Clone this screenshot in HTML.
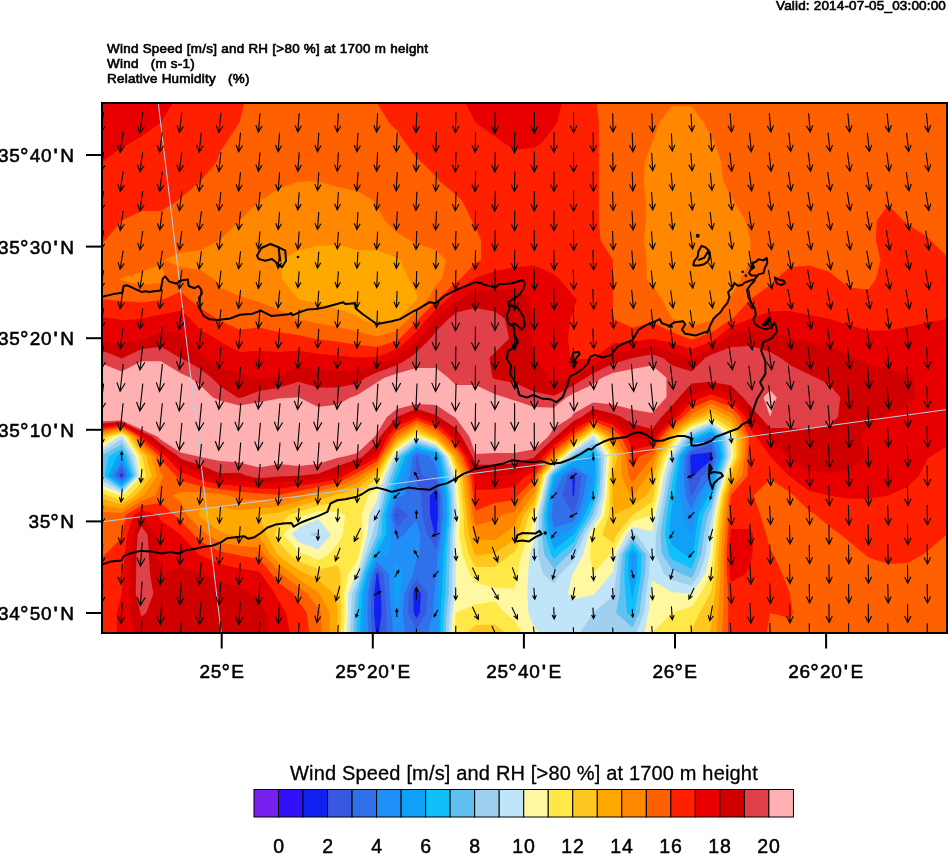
<!DOCTYPE html>
<html><head><meta charset="utf-8"><title>Wind Speed and RH at 1700 m</title>
<style>
html,body{margin:0;padding:0;background:#fff;width:948px;height:854px;overflow:hidden;}
body{width:948px;height:854px;position:relative;overflow:hidden;font-family:"Liberation Sans",sans-serif;color:#000;}
svg{position:absolute;left:0;top:0;}
div{position:absolute;white-space:nowrap;line-height:1;will-change:transform;}
.lat{left:-40px;width:114.6px;text-align:right;font-size:19px;letter-spacing:0.7px;-webkit-text-stroke:0.55px #000;}
.dg{font-size:1.12em;margin:0 0.6px 0 -0.6px;line-height:0;position:relative;top:2.2px;}
.mn{margin:0 2.2px 0 1.4px;-webkit-text-stroke:1px #000;}
.lon{top:661.8px;width:120px;text-align:center;font-size:19px;letter-spacing:0.7px;-webkit-text-stroke:0.55px #000;}
.cbl{top:836.8px;width:60px;text-align:center;font-size:19.5px;letter-spacing:0.9px;-webkit-text-stroke:0.5px #000;}
.t{left:107px;font-size:12.2px;-webkit-text-stroke:0.6px #000;letter-spacing:0.25px;transform:scaleX(1.10);transform-origin:0 0;}
#valid{left:775.8px;top:-1.3px;font-size:13.5px;-webkit-text-stroke:0.65px #000;letter-spacing:0.17px;}
#cbt{left:290px;top:763px;font-size:20px;-webkit-text-stroke:0.3px #000;letter-spacing:0.17px;}
main{display:block;position:absolute;left:0;top:0;width:948px;height:854px;overflow:hidden;contain:paint;}
</style></head><body><main>
<svg width="948" height="854" viewBox="0 0 948 854">
<defs><clipPath id="cp"><rect x="102" y="103" width="845" height="530"/></clipPath></defs>
<g clip-path="url(#cp)" shape-rendering="geometricPrecision">
<rect x="100" y="101" width="850" height="535" fill="#1020f0"/>
<path fill="#3858e0" fill-rule="evenodd" d="M102.0 103.0L121.7 103.0L141.3 103.0L160.9 103.0L180.6 103.0L200.2 103.0L219.9 103.0L239.5 103.0L259.2 103.0L278.9 103.0L298.5 103.0L318.1 103.0L337.8 103.0L357.4 103.0L377.1 103.0L396.8 103.0L416.4 103.0L436.0 103.0L455.7 103.0L475.3 103.0L495.0 103.0L514.6 103.0L534.3 103.0L554.0 103.0L573.6 103.0L593.2 103.0L612.9 103.0L632.5 103.0L652.2 103.0L671.8 103.0L691.5 103.0L711.1 103.0L730.8 103.0L750.4 103.0L770.1 103.0L789.8 103.0L809.4 103.0L829.0 103.0L848.7 103.0L868.3 103.0L888.0 103.0L907.6 103.0L927.3 103.0L946.9 103.0L946.9 122.6L946.9 142.2L946.9 161.9L946.9 181.5L946.9 201.1L946.9 220.7L946.9 240.3L946.9 260.0L946.9 279.6L946.9 299.2L946.9 318.8L946.9 338.4L946.9 358.1L946.9 377.7L946.9 397.3L946.9 416.9L946.9 436.5L946.9 456.2L946.9 475.8L946.9 495.4L946.9 515.0L946.9 534.6L946.9 554.3L946.9 573.9L946.9 593.5L946.9 613.1L946.9 632.7L927.3 632.7L907.6 632.7L888.0 632.7L868.3 632.7L848.7 632.7L829.0 632.7L809.4 632.7L789.8 632.7L770.1 632.7L750.4 632.7L730.8 632.7L711.1 632.7L691.5 632.7L671.8 632.7L652.2 632.7L632.5 632.7L612.9 632.7L593.2 632.7L573.6 632.7L554.0 632.7L534.3 632.7L514.6 632.7L495.0 632.7L475.3 632.7L455.7 632.7L436.0 632.7L416.4 632.7L396.8 632.7L379.2 632.7L381.5 613.1L380.9 593.5L378.2 573.9L377.1 572.8L376.6 573.9L374.3 593.5L374.1 613.1L375.9 632.7L357.4 632.7L337.8 632.7L318.1 632.7L298.5 632.7L278.9 632.7L259.2 632.7L239.5 632.7L219.9 632.7L200.2 632.7L180.6 632.7L160.9 632.7L141.3 632.7L121.7 632.7L102.0 632.7L102.0 613.1L102.0 593.5L102.0 573.9L102.0 554.3L102.0 534.6L102.0 515.0L102.0 495.4L102.0 475.8L102.0 456.2L102.0 436.5L102.0 416.9L102.0 397.3L102.0 377.7L102.0 358.1L102.0 338.4L102.0 318.8L102.0 299.2L102.0 279.6L102.0 260.0L102.0 240.3L102.0 220.7L102.0 201.1L102.0 181.5L102.0 161.9L102.0 142.2L102.0 122.6ZM121.7 472.9L119.8 475.8L121.7 477.0L122.9 475.8ZM396.7 514.2L396.5 515.0L396.8 516.1L397.8 515.0ZM416.4 587.8L413.3 593.5L413.7 613.1L416.4 618.6L419.7 613.1L421.0 593.5ZM436.0 489.2L429.8 495.4L430.0 515.0L434.6 534.6L436.0 536.9L436.5 534.6L437.9 515.0L437.6 495.4ZM573.6 474.8L572.2 475.8L572.6 495.4L573.6 497.2L574.1 495.4L575.4 475.8ZM691.5 454.5L690.2 456.2L690.8 475.8L691.5 479.3L693.3 475.8L711.1 460.1L712.3 456.2L711.1 452.2Z"/>
<path fill="#3070e8" fill-rule="evenodd" d="M102.0 103.0L121.7 103.0L141.3 103.0L160.9 103.0L180.6 103.0L200.2 103.0L219.9 103.0L239.5 103.0L259.2 103.0L278.9 103.0L298.5 103.0L318.1 103.0L337.8 103.0L357.4 103.0L377.1 103.0L396.8 103.0L416.4 103.0L436.0 103.0L455.7 103.0L475.3 103.0L495.0 103.0L514.6 103.0L534.3 103.0L554.0 103.0L573.6 103.0L593.2 103.0L612.9 103.0L632.5 103.0L652.2 103.0L671.8 103.0L691.5 103.0L711.1 103.0L730.8 103.0L750.4 103.0L770.1 103.0L789.8 103.0L809.4 103.0L829.0 103.0L848.7 103.0L868.3 103.0L888.0 103.0L907.6 103.0L927.3 103.0L946.9 103.0L946.9 122.6L946.9 142.2L946.9 161.9L946.9 181.5L946.9 201.1L946.9 220.7L946.9 240.3L946.9 260.0L946.9 279.6L946.9 299.2L946.9 318.8L946.9 338.4L946.9 358.1L946.9 377.7L946.9 397.3L946.9 416.9L946.9 436.5L946.9 456.2L946.9 475.8L946.9 495.4L946.9 515.0L946.9 534.6L946.9 554.3L946.9 573.9L946.9 593.5L946.9 613.1L946.9 632.7L927.3 632.7L907.6 632.7L888.0 632.7L868.3 632.7L848.7 632.7L829.0 632.7L809.4 632.7L789.8 632.7L770.1 632.7L750.4 632.7L730.8 632.7L711.1 632.7L691.5 632.7L671.8 632.7L652.2 632.7L632.5 632.7L612.9 632.7L593.2 632.7L573.6 632.7L554.0 632.7L534.3 632.7L514.6 632.7L495.0 632.7L475.3 632.7L455.7 632.7L436.0 632.7L416.4 632.7L396.8 632.7L386.2 632.7L386.4 613.1L385.2 593.5L383.5 573.9L377.1 567.5L374.2 573.9L371.3 593.5L370.8 613.1L372.0 632.7L357.4 632.7L337.8 632.7L318.1 632.7L298.5 632.7L278.9 632.7L259.2 632.7L239.5 632.7L219.9 632.7L200.2 632.7L180.6 632.7L160.9 632.7L141.3 632.7L121.7 632.7L102.0 632.7L102.0 613.1L102.0 593.5L102.0 573.9L102.0 554.3L102.0 534.6L102.0 515.0L102.0 495.4L102.0 475.8L102.0 456.2L102.0 436.5L102.0 416.9L102.0 397.3L102.0 377.7L102.0 358.1L102.0 338.4L102.0 318.8L102.0 299.2L102.0 279.6L102.0 260.0L102.0 240.3L102.0 220.7L102.0 201.1L102.0 181.5L102.0 161.9L102.0 142.2L102.0 122.6ZM121.6 468.1L116.8 475.8L121.7 479.1L124.9 475.8ZM396.8 506.0L393.7 515.0L396.8 527.0L408.1 515.0ZM416.4 455.9L416.0 456.2L415.3 475.8L416.4 481.4L420.9 495.4L422.4 515.0L427.3 534.6L436.0 548.5L438.8 534.6L440.3 515.0L439.9 495.4L436.0 480.2L422.0 475.8L417.6 456.2ZM573.6 471.4L567.7 475.8L562.2 495.4L573.6 515.0L573.6 515.0L573.6 515.0L578.9 495.4L581.3 475.8ZM691.5 451.3L687.7 456.2L687.4 475.8L691.0 495.4L691.5 496.6L692.0 495.4L702.2 475.8L711.1 467.9L714.6 456.2L711.1 444.4ZM416.4 579.6L408.8 593.5L408.2 613.1L416.4 629.5L426.2 613.1L427.5 593.5Z"/>
<path fill="#2090f8" fill-rule="evenodd" d="M102.0 103.0L121.7 103.0L141.3 103.0L160.9 103.0L180.6 103.0L200.2 103.0L219.9 103.0L239.5 103.0L259.2 103.0L278.9 103.0L298.5 103.0L318.1 103.0L337.8 103.0L357.4 103.0L377.1 103.0L396.8 103.0L416.4 103.0L436.0 103.0L455.7 103.0L475.3 103.0L495.0 103.0L514.6 103.0L534.3 103.0L554.0 103.0L573.6 103.0L593.2 103.0L612.9 103.0L632.5 103.0L652.2 103.0L671.8 103.0L691.5 103.0L711.1 103.0L730.8 103.0L750.4 103.0L770.1 103.0L789.8 103.0L809.4 103.0L829.0 103.0L848.7 103.0L868.3 103.0L888.0 103.0L907.6 103.0L927.3 103.0L946.9 103.0L946.9 122.6L946.9 142.2L946.9 161.9L946.9 181.5L946.9 201.1L946.9 220.7L946.9 240.3L946.9 260.0L946.9 279.6L946.9 299.2L946.9 318.8L946.9 338.4L946.9 358.1L946.9 377.7L946.9 397.3L946.9 416.9L946.9 436.5L946.9 456.2L946.9 475.8L946.9 495.4L946.9 515.0L946.9 534.6L946.9 554.3L946.9 573.9L946.9 593.5L946.9 613.1L946.9 632.7L927.3 632.7L907.6 632.7L888.0 632.7L868.3 632.7L848.7 632.7L829.0 632.7L809.4 632.7L789.8 632.7L770.1 632.7L750.4 632.7L730.8 632.7L711.1 632.7L691.5 632.7L671.8 632.7L652.2 632.7L632.5 632.7L612.9 632.7L593.2 632.7L573.6 632.7L554.0 632.7L534.3 632.7L514.6 632.7L495.0 632.7L475.3 632.7L455.7 632.7L436.0 632.7L427.9 632.7L432.8 613.1L434.1 593.5L436.0 573.9L436.0 573.9L437.6 554.3L441.1 534.6L442.7 515.0L442.1 495.4L437.5 475.8L436.0 466.0L429.9 456.2L416.4 453.2L412.5 456.2L409.7 475.8L404.1 495.4L396.8 497.9L390.9 515.0L395.4 534.6L396.8 540.5L404.1 534.6L416.4 520.6L420.0 534.6L419.7 554.3L416.4 559.2L413.1 573.9L404.3 593.5L402.8 613.1L404.9 632.7L396.8 632.7L393.2 632.7L391.3 613.1L389.5 593.5L388.8 573.9L377.1 562.2L371.7 573.9L368.2 593.5L367.4 613.1L368.1 632.7L357.4 632.7L337.8 632.7L318.1 632.7L298.5 632.7L278.9 632.7L259.2 632.7L239.5 632.7L219.9 632.7L200.2 632.7L180.6 632.7L160.9 632.7L141.3 632.7L121.7 632.7L102.0 632.7L102.0 613.1L102.0 593.5L102.0 573.9L102.0 554.3L102.0 534.6L102.0 515.0L102.0 495.4L102.0 475.8L102.0 456.2L102.0 436.5L102.0 416.9L102.0 397.3L102.0 377.7L102.0 358.1L102.0 338.4L102.0 318.8L102.0 299.2L102.0 279.6L102.0 260.0L102.0 240.3L102.0 220.7L102.0 201.1L102.0 181.5L102.0 161.9L102.0 142.2L102.0 122.6ZM121.7 463.3L113.8 475.8L121.7 481.2L127.0 475.8ZM573.6 468.0L563.1 475.8L554.0 493.6L553.6 495.4L551.7 515.0L554.0 527.6L573.6 521.6L577.4 515.0L583.7 495.4L587.3 475.8ZM711.1 436.5L711.1 436.5L691.5 448.0L685.2 456.2L683.9 475.8L685.5 495.4L691.5 508.9L697.5 495.4L711.1 475.8L711.1 475.8L716.9 456.2L711.1 436.5Z"/>
<path fill="#10a0f8" fill-rule="evenodd" d="M102.0 103.0L121.7 103.0L141.3 103.0L160.9 103.0L180.6 103.0L200.2 103.0L219.9 103.0L239.5 103.0L259.2 103.0L278.9 103.0L298.5 103.0L318.1 103.0L337.8 103.0L357.4 103.0L377.1 103.0L396.8 103.0L416.4 103.0L436.0 103.0L455.7 103.0L475.3 103.0L495.0 103.0L514.6 103.0L534.3 103.0L554.0 103.0L573.6 103.0L593.2 103.0L612.9 103.0L632.5 103.0L652.2 103.0L671.8 103.0L691.5 103.0L711.1 103.0L730.8 103.0L750.4 103.0L770.1 103.0L789.8 103.0L809.4 103.0L829.0 103.0L848.7 103.0L868.3 103.0L888.0 103.0L907.6 103.0L927.3 103.0L946.9 103.0L946.9 122.6L946.9 142.2L946.9 161.9L946.9 181.5L946.9 201.1L946.9 220.7L946.9 240.3L946.9 260.0L946.9 279.6L946.9 299.2L946.9 318.8L946.9 338.4L946.9 358.1L946.9 377.7L946.9 397.3L946.9 416.9L946.9 436.5L946.9 456.2L946.9 475.8L946.9 495.4L946.9 515.0L946.9 534.6L946.9 554.3L946.9 573.9L946.9 593.5L946.9 613.1L946.9 632.7L927.3 632.7L907.6 632.7L888.0 632.7L868.3 632.7L848.7 632.7L829.0 632.7L809.4 632.7L789.8 632.7L770.1 632.7L750.4 632.7L730.8 632.7L711.1 632.7L691.5 632.7L671.8 632.7L652.2 632.7L632.5 632.7L612.9 632.7L593.2 632.7L573.6 632.7L554.0 632.7L534.3 632.7L514.6 632.7L495.0 632.7L475.3 632.7L455.7 632.7L437.5 632.7L437.6 613.1L438.5 593.5L439.3 573.9L440.7 554.3L443.4 534.6L445.0 515.0L444.4 495.4L440.3 475.8L437.1 456.2L436.0 455.1L416.4 450.6L409.0 456.2L404.0 475.8L396.8 488.5L394.5 495.4L388.2 515.0L390.8 534.6L389.4 554.3L377.1 556.9L369.2 573.9L365.1 593.5L364.1 613.1L364.1 632.7L357.4 632.7L337.8 632.7L318.1 632.7L298.5 632.7L278.9 632.7L259.2 632.7L239.5 632.7L219.9 632.7L200.2 632.7L180.6 632.7L160.9 632.7L141.3 632.7L121.7 632.7L102.0 632.7L102.0 613.1L102.0 593.5L102.0 573.9L102.0 554.3L102.0 534.6L102.0 515.0L102.0 495.4L102.0 475.8L102.0 456.2L102.0 436.5L102.0 416.9L102.0 397.3L102.0 377.7L102.0 358.1L102.0 338.4L102.0 318.8L102.0 299.2L102.0 279.6L102.0 260.0L102.0 240.3L102.0 220.7L102.0 201.1L102.0 181.5L102.0 161.9L102.0 142.2L102.0 122.6ZM121.7 458.6L110.8 475.8L121.7 483.3L129.0 475.8ZM573.6 464.6L558.5 475.8L554.0 484.7L551.6 495.4L549.2 515.0L552.2 534.6L554.0 539.5L560.5 534.6L573.6 528.1L581.2 515.0L588.5 495.4L593.2 475.8L593.2 475.8L593.2 475.8ZM632.5 553.3L631.9 554.3L632.2 573.9L632.5 576.1L633.0 573.9L633.4 554.3ZM711.1 434.1L705.5 436.5L691.5 444.7L682.7 456.2L680.5 475.8L680.0 495.4L683.3 515.0L691.5 534.6L691.5 534.6L691.5 534.6L693.8 515.0L703.0 495.4L711.1 483.6L713.3 475.8L719.2 456.2L714.3 436.5ZM394.1 573.9L396.8 561.6L402.2 573.9L399.9 593.5L397.3 613.1L396.8 616.4L396.3 613.1L393.8 593.5Z"/>
<path fill="#10c0f8" fill-rule="evenodd" d="M102.0 103.0L121.7 103.0L141.3 103.0L160.9 103.0L180.6 103.0L200.2 103.0L219.9 103.0L239.5 103.0L259.2 103.0L278.9 103.0L298.5 103.0L318.1 103.0L337.8 103.0L357.4 103.0L377.1 103.0L396.8 103.0L416.4 103.0L436.0 103.0L455.7 103.0L475.3 103.0L495.0 103.0L514.6 103.0L534.3 103.0L554.0 103.0L573.6 103.0L593.2 103.0L612.9 103.0L632.5 103.0L652.2 103.0L671.8 103.0L691.5 103.0L711.1 103.0L730.8 103.0L750.4 103.0L770.1 103.0L789.8 103.0L809.4 103.0L829.0 103.0L848.7 103.0L868.3 103.0L888.0 103.0L907.6 103.0L927.3 103.0L946.9 103.0L946.9 122.6L946.9 142.2L946.9 161.9L946.9 181.5L946.9 201.1L946.9 220.7L946.9 240.3L946.9 260.0L946.9 279.6L946.9 299.2L946.9 318.8L946.9 338.4L946.9 358.1L946.9 377.7L946.9 397.3L946.9 416.9L946.9 436.5L946.9 456.2L946.9 475.8L946.9 495.4L946.9 515.0L946.9 534.6L946.9 554.3L946.9 573.9L946.9 593.5L946.9 613.1L946.9 632.7L927.3 632.7L907.6 632.7L888.0 632.7L868.3 632.7L848.7 632.7L829.0 632.7L809.4 632.7L789.8 632.7L770.1 632.7L750.4 632.7L730.8 632.7L711.1 632.7L691.5 632.7L671.8 632.7L652.2 632.7L632.5 632.7L612.9 632.7L593.2 632.7L573.6 632.7L554.0 632.7L534.3 632.7L514.6 632.7L495.0 632.7L475.3 632.7L455.7 632.7L440.3 632.7L440.6 613.1L441.9 593.5L442.6 573.9L443.7 554.3L445.8 534.6L447.4 515.0L446.7 495.4L443.1 475.8L439.2 456.2L436.0 453.0L416.4 447.9L405.5 456.2L398.4 475.8L396.8 478.7L391.2 495.4L385.4 515.0L386.2 534.6L377.1 550.3L375.5 554.3L366.8 573.9L362.1 593.5L360.8 613.1L360.2 632.7L357.4 632.7L337.8 632.7L318.1 632.7L298.5 632.7L278.9 632.7L259.2 632.7L239.5 632.7L219.9 632.7L200.2 632.7L180.6 632.7L160.9 632.7L141.3 632.7L121.7 632.7L102.0 632.7L102.0 613.1L102.0 593.5L102.0 573.9L102.0 554.3L102.0 534.6L102.0 515.0L102.0 495.4L102.0 475.8L102.0 456.2L102.0 436.5L102.0 416.9L102.0 397.3L102.0 377.7L102.0 358.1L102.0 338.4L102.0 318.8L102.0 299.2L102.0 279.6L102.0 260.0L102.0 240.3L102.0 220.7L102.0 201.1L102.0 181.5L102.0 161.9L102.0 142.2L102.0 122.6ZM121.7 453.7L117.4 456.2L107.7 475.8L121.7 485.4L131.1 475.8L123.2 456.2ZM593.2 453.7L588.3 456.2L573.6 461.2L554.0 475.8L554.0 475.8L549.6 495.4L546.7 515.0L548.8 534.6L554.0 549.4L573.6 534.6L573.6 534.6L584.9 515.0L593.2 495.4L593.2 495.4L595.7 475.8L594.8 456.2ZM632.5 548.4L628.7 554.3L628.2 573.9L631.4 593.5L632.5 599.1L633.4 593.5L637.0 573.9L637.6 554.3ZM711.1 431.6L699.9 436.5L691.5 441.4L680.2 456.2L677.0 475.8L674.6 495.4L671.8 507.7L670.7 515.0L669.6 534.6L671.8 544.5L684.1 554.3L691.5 557.5L692.8 554.3L695.7 534.6L698.5 515.0L708.4 495.4L711.1 491.5L715.5 475.8L721.6 456.2L717.4 436.5Z"/>
<path fill="#60c0f0" fill-rule="evenodd" d="M102.0 103.0L121.7 103.0L141.3 103.0L160.9 103.0L180.6 103.0L200.2 103.0L219.9 103.0L239.5 103.0L259.2 103.0L278.9 103.0L298.5 103.0L318.1 103.0L337.8 103.0L357.4 103.0L377.1 103.0L396.8 103.0L416.4 103.0L436.0 103.0L455.7 103.0L475.3 103.0L495.0 103.0L514.6 103.0L534.3 103.0L554.0 103.0L573.6 103.0L593.2 103.0L612.9 103.0L632.5 103.0L652.2 103.0L671.8 103.0L691.5 103.0L711.1 103.0L730.8 103.0L750.4 103.0L770.1 103.0L789.8 103.0L809.4 103.0L829.0 103.0L848.7 103.0L868.3 103.0L888.0 103.0L907.6 103.0L927.3 103.0L946.9 103.0L946.9 122.6L946.9 142.2L946.9 161.9L946.9 181.5L946.9 201.1L946.9 220.7L946.9 240.3L946.9 260.0L946.9 279.6L946.9 299.2L946.9 318.8L946.9 338.4L946.9 358.1L946.9 377.7L946.9 397.3L946.9 416.9L946.9 436.5L946.9 456.2L946.9 475.8L946.9 495.4L946.9 515.0L946.9 534.6L946.9 554.3L946.9 573.9L946.9 593.5L946.9 613.1L946.9 632.7L927.3 632.7L907.6 632.7L888.0 632.7L868.3 632.7L848.7 632.7L829.0 632.7L809.4 632.7L789.8 632.7L770.1 632.7L750.4 632.7L730.8 632.7L711.1 632.7L691.5 632.7L671.8 632.7L652.2 632.7L632.5 632.7L612.9 632.7L593.2 632.7L573.6 632.7L554.0 632.7L534.3 632.7L514.6 632.7L495.0 632.7L475.3 632.7L455.7 632.7L443.1 632.7L443.6 613.1L445.4 593.5L445.9 573.9L446.8 554.3L448.1 534.6L449.8 515.0L448.9 495.4L445.9 475.8L441.3 456.2L436.0 450.8L416.4 445.3L402.0 456.2L396.8 469.5L394.5 475.8L387.9 495.4L382.6 515.0L381.7 534.6L377.1 542.5L372.2 554.3L364.3 573.9L359.0 593.5L357.4 613.1L357.4 613.1L356.5 632.7L337.8 632.7L318.1 632.7L298.5 632.7L278.9 632.7L259.2 632.7L239.5 632.7L219.9 632.7L200.2 632.7L180.6 632.7L160.9 632.7L141.3 632.7L121.7 632.7L102.0 632.7L102.0 613.1L102.0 593.5L102.0 573.9L102.0 554.3L102.0 534.6L102.0 515.0L102.0 495.4L102.0 475.8L102.0 456.2L102.0 436.5L102.0 416.9L102.0 397.3L102.0 377.7L102.0 358.1L102.0 338.4L102.0 318.8L102.0 299.2L102.0 279.6L102.0 260.0L102.0 240.3L102.0 220.7L102.0 201.1L102.0 181.5L102.0 161.9L102.0 142.2L102.0 122.6ZM121.7 448.8L108.8 456.2L104.7 475.8L121.7 487.5L133.1 475.8L126.3 456.2ZM593.2 448.8L578.5 456.2L573.6 457.9L554.0 473.5L552.1 475.8L547.7 495.4L544.2 515.0L545.3 534.6L550.7 554.3L554.0 559.2L558.9 554.3L573.6 542.5L577.3 534.6L588.7 515.0L593.2 504.3L596.0 495.4L598.2 475.8L597.8 456.2ZM632.5 543.5L625.5 554.3L624.3 573.9L625.4 593.5L627.1 613.1L632.5 618.0L634.8 613.1L637.7 593.5L641.0 573.9L641.7 554.3ZM711.1 429.1L694.3 436.5L691.5 438.2L677.6 456.2L673.6 475.8L671.8 485.6L670.2 495.4L667.0 515.0L665.0 534.6L668.6 554.3L671.8 559.2L691.5 568.4L697.1 554.3L699.9 534.6L703.2 515.0L711.2 499.9L712.2 495.4L717.7 475.8L723.9 456.2L720.5 436.5Z"/>
<path fill="#a0d0f0" fill-rule="evenodd" d="M102.0 103.0L121.7 103.0L141.3 103.0L160.9 103.0L180.6 103.0L200.2 103.0L219.9 103.0L239.5 103.0L259.2 103.0L278.9 103.0L298.5 103.0L318.1 103.0L337.8 103.0L357.4 103.0L377.1 103.0L396.8 103.0L416.4 103.0L436.0 103.0L455.7 103.0L475.3 103.0L495.0 103.0L514.6 103.0L534.3 103.0L554.0 103.0L573.6 103.0L593.2 103.0L612.9 103.0L632.5 103.0L652.2 103.0L671.8 103.0L691.5 103.0L711.1 103.0L730.8 103.0L750.4 103.0L770.1 103.0L789.8 103.0L809.4 103.0L829.0 103.0L848.7 103.0L868.3 103.0L888.0 103.0L907.6 103.0L927.3 103.0L946.9 103.0L946.9 122.6L946.9 142.2L946.9 161.9L946.9 181.5L946.9 201.1L946.9 220.7L946.9 240.3L946.9 260.0L946.9 279.6L946.9 299.2L946.9 318.8L946.9 338.4L946.9 358.1L946.9 377.7L946.9 397.3L946.9 416.9L946.9 436.5L946.9 456.2L946.9 475.8L946.9 495.4L946.9 515.0L946.9 534.6L946.9 554.3L946.9 573.9L946.9 593.5L946.9 613.1L946.9 632.7L927.3 632.7L907.6 632.7L888.0 632.7L868.3 632.7L848.7 632.7L829.0 632.7L809.4 632.7L789.8 632.7L770.1 632.7L750.4 632.7L730.8 632.7L711.1 632.7L691.5 632.7L671.8 632.7L652.2 632.7L632.5 632.7L612.9 632.7L593.2 632.7L573.6 632.7L554.0 632.7L534.3 632.7L514.6 632.7L495.0 632.7L475.3 632.7L455.7 632.7L445.9 632.7L446.6 613.1L448.8 593.5L449.1 573.9L449.9 554.3L450.4 534.6L452.1 515.0L451.2 495.4L448.7 475.8L443.4 456.2L436.0 448.7L416.4 442.6L398.5 456.2L396.8 460.6L391.2 475.8L384.6 495.4L379.9 515.0L377.1 534.6L377.1 534.6L368.9 554.3L361.9 573.9L357.4 589.2L355.6 593.5L354.2 613.1L353.3 632.7L337.8 632.7L318.1 632.7L298.5 632.7L278.9 632.7L259.2 632.7L239.5 632.7L219.9 632.7L200.2 632.7L180.6 632.7L160.9 632.7L141.3 632.7L121.7 632.7L102.0 632.7L102.0 613.1L102.0 593.5L102.0 573.9L102.0 554.3L102.0 534.6L102.0 515.0L102.0 495.4L102.0 476.2L121.7 489.6L135.2 475.8L129.4 456.2L121.7 443.9L102.0 455.4L102.0 436.5L102.0 416.9L102.0 397.3L102.0 377.7L102.0 358.1L102.0 338.4L102.0 318.8L102.0 299.2L102.0 279.6L102.0 260.0L102.0 240.3L102.0 220.7L102.0 201.1L102.0 181.5L102.0 161.9L102.0 142.2L102.0 122.6ZM573.6 454.9L572.2 456.2L554.0 471.2L550.2 475.8L545.7 495.4L541.8 515.0L541.9 534.6L544.1 554.3L554.0 569.0L568.7 554.3L573.6 550.3L581.0 534.6L592.5 515.0L593.2 513.2L598.8 495.4L600.6 475.8L600.8 456.2L593.2 443.9ZM632.5 538.6L622.2 554.3L620.4 573.9L619.4 593.5L616.2 613.1L632.5 627.8L639.4 613.1L641.9 593.5L645.0 573.9L645.9 554.3ZM691.5 435.1L689.7 436.5L675.1 456.2L671.8 470.3L670.2 475.8L666.9 495.4L663.3 515.0L660.4 534.6L662.0 554.3L671.8 569.0L681.7 573.9L691.5 577.8L694.2 573.9L701.3 554.3L704.0 534.6L707.9 515.0L711.1 508.8L714.3 495.4L719.9 475.8L726.2 456.2L723.6 436.5L711.1 426.6Z"/>
<path fill="#c0e4f8" fill-rule="evenodd" d="M102.0 103.0L121.7 103.0L141.3 103.0L160.9 103.0L180.6 103.0L200.2 103.0L219.9 103.0L239.5 103.0L259.2 103.0L278.9 103.0L298.5 103.0L318.1 103.0L337.8 103.0L357.4 103.0L377.1 103.0L396.8 103.0L416.4 103.0L436.0 103.0L455.7 103.0L475.3 103.0L495.0 103.0L514.6 103.0L534.3 103.0L554.0 103.0L573.6 103.0L593.2 103.0L612.9 103.0L632.5 103.0L652.2 103.0L671.8 103.0L691.5 103.0L711.1 103.0L730.8 103.0L750.4 103.0L770.1 103.0L789.8 103.0L809.4 103.0L829.0 103.0L848.7 103.0L868.3 103.0L888.0 103.0L907.6 103.0L927.3 103.0L946.9 103.0L946.9 122.6L946.9 142.2L946.9 161.9L946.9 181.5L946.9 201.1L946.9 220.7L946.9 240.3L946.9 260.0L946.9 279.6L946.9 299.2L946.9 318.8L946.9 338.4L946.9 358.1L946.9 377.7L946.9 397.3L946.9 416.9L946.9 436.5L946.9 456.2L946.9 475.8L946.9 495.4L946.9 515.0L946.9 534.6L946.9 554.3L946.9 573.9L946.9 593.5L946.9 613.1L946.9 632.7L927.3 632.7L907.6 632.7L888.0 632.7L868.3 632.7L848.7 632.7L829.0 632.7L809.4 632.7L789.8 632.7L770.1 632.7L750.4 632.7L730.8 632.7L711.1 632.7L691.5 632.7L671.8 632.7L652.2 632.7L636.5 632.7L644.0 613.1L646.2 593.5L649.0 573.9L650.1 554.3L636.5 534.6L632.5 533.4L631.6 534.6L619.0 554.3L616.4 573.9L613.5 593.5L612.9 596.0L593.2 613.1L593.2 613.1L580.1 632.7L573.6 632.7L554.0 632.7L534.3 632.7L514.6 632.7L495.0 632.7L475.3 632.7L455.7 632.7L448.7 632.7L449.7 613.1L452.3 593.5L452.4 573.9L452.9 554.3L452.7 534.6L454.5 515.0L453.4 495.4L451.5 475.8L445.6 456.2L436.0 446.6L416.4 440.0L396.8 454.6L395.6 456.2L387.9 475.8L381.4 495.4L377.1 515.0L377.1 515.0L372.3 534.6L365.6 554.3L359.4 573.9L357.4 580.7L351.8 593.5L351.0 613.1L350.0 632.7L337.8 632.7L318.1 632.7L298.5 632.7L278.9 632.7L259.2 632.7L239.5 632.7L219.9 632.7L200.2 632.7L180.6 632.7L160.9 632.7L141.3 632.7L121.7 632.7L102.0 632.7L102.0 613.1L102.0 593.5L102.0 573.9L102.0 554.3L102.0 534.6L102.0 515.0L102.0 495.4L102.0 480.5L121.7 491.6L137.2 475.8L132.6 456.2L121.7 439.0L102.0 451.6L102.0 436.5L102.0 416.9L102.0 397.3L102.0 377.7L102.0 358.1L102.0 338.4L102.0 318.8L102.0 299.2L102.0 279.6L102.0 260.0L102.0 240.3L102.0 220.7L102.0 201.1L102.0 181.5L102.0 161.9L102.0 142.2L102.0 122.6ZM318.1 532.0L308.3 534.6L318.1 537.1L320.3 534.6ZM573.6 452.5L569.4 456.2L554.0 468.9L548.3 475.8L543.7 495.4L539.3 515.0L538.4 534.6L537.6 554.3L543.0 573.9L554.0 583.7L560.1 573.9L573.6 560.4L576.9 554.3L584.7 534.6L593.2 520.1L596.5 515.0L601.6 495.4L603.1 475.8L603.8 456.2L593.2 439.0ZM691.5 432.3L686.1 436.5L672.6 456.2L671.8 459.4L666.9 475.8L663.7 495.4L659.6 515.0L655.9 534.6L655.5 554.3L664.3 573.9L671.8 580.0L691.5 585.7L699.7 573.9L705.6 554.3L708.2 534.6L711.1 520.9L711.9 515.0L716.3 495.4L722.1 475.8L728.5 456.2L726.7 436.5L711.1 424.1Z"/>
<path fill="#fff8a0" fill-rule="evenodd" d="M102.0 103.0L121.7 103.0L141.3 103.0L160.9 103.0L180.6 103.0L200.2 103.0L219.9 103.0L239.5 103.0L259.2 103.0L278.9 103.0L298.5 103.0L318.1 103.0L337.8 103.0L357.4 103.0L377.1 103.0L396.8 103.0L416.4 103.0L436.0 103.0L455.7 103.0L475.3 103.0L495.0 103.0L514.6 103.0L534.3 103.0L554.0 103.0L573.6 103.0L593.2 103.0L612.9 103.0L632.5 103.0L652.2 103.0L671.8 103.0L691.5 103.0L711.1 103.0L730.8 103.0L750.4 103.0L770.1 103.0L789.8 103.0L809.4 103.0L829.0 103.0L848.7 103.0L868.3 103.0L888.0 103.0L907.6 103.0L927.3 103.0L946.9 103.0L946.9 122.6L946.9 142.2L946.9 161.9L946.9 181.5L946.9 201.1L946.9 220.7L946.9 240.3L946.9 260.0L946.9 279.6L946.9 299.2L946.9 318.8L946.9 338.4L946.9 358.1L946.9 377.7L946.9 397.3L946.9 416.9L946.9 436.5L946.9 456.2L946.9 475.8L946.9 495.4L946.9 515.0L946.9 534.6L946.9 554.3L946.9 573.9L946.9 593.5L946.9 613.1L946.9 632.7L927.3 632.7L907.6 632.7L888.0 632.7L868.3 632.7L848.7 632.7L829.0 632.7L809.4 632.7L789.8 632.7L770.1 632.7L750.4 632.7L730.8 632.7L711.1 632.7L691.5 632.7L671.8 632.7L652.2 632.7L644.3 632.7L648.5 613.1L650.5 593.5L652.2 580.4L671.8 592.3L691.5 593.5L691.5 593.5L691.5 593.5L705.1 573.9L709.9 554.3L711.1 544.5L711.9 534.6L714.4 515.0L718.4 495.4L724.2 475.8L730.8 456.2L730.8 456.2L730.8 456.2L729.9 436.5L711.1 421.6L691.5 429.5L682.6 436.5L671.8 452.4L669.5 456.2L663.7 475.8L660.4 495.4L655.9 515.0L652.2 531.4L632.5 527.3L626.7 534.6L615.8 554.3L612.9 571.9L611.1 573.9L595.2 593.5L593.2 595.3L573.6 599.1L568.0 593.5L572.4 573.9L573.6 572.7L583.4 554.3L588.4 534.6L593.2 526.4L600.6 515.0L604.3 495.4L605.5 475.8L606.9 456.2L595.2 436.5L593.2 435.3L591.6 436.5L573.6 450.0L566.6 456.2L554.0 466.5L546.4 475.8L541.8 495.4L536.8 515.0L535.0 534.6L534.3 540.2L530.0 554.3L528.1 573.9L527.3 593.5L528.4 613.1L534.3 627.8L539.2 632.7L534.3 632.7L514.6 632.7L495.0 632.7L475.3 632.7L455.7 632.7L451.5 632.7L452.7 613.1L455.7 593.5L455.7 593.5L455.7 573.9L456.3 554.3L455.7 549.4L455.0 534.6L455.7 527.3L457.3 515.0L455.7 495.4L455.7 495.4L454.3 475.8L447.7 456.2L436.0 444.4L416.4 437.3L396.8 451.5L393.4 456.2L384.6 475.8L378.1 495.4L377.1 499.9L369.2 515.0L367.5 534.6L362.4 554.3L357.5 571.6L355.9 573.9L348.0 593.5L347.8 613.1L346.8 632.7L337.8 632.7L318.1 632.7L298.5 632.7L278.9 632.7L259.2 632.7L239.5 632.7L219.9 632.7L200.2 632.7L180.6 632.7L160.9 632.7L141.3 632.7L121.7 632.7L102.0 632.7L102.0 613.1L102.0 593.5L102.0 573.9L102.0 554.3L102.0 534.6L102.0 515.0L102.0 495.4L102.0 484.7L121.7 493.7L139.3 475.8L135.7 456.2L123.0 436.5L121.7 435.8L118.8 436.5L102.0 447.9L102.0 436.5L102.0 416.9L102.0 397.3L102.0 377.7L102.0 358.1L102.0 338.4L102.0 318.8L102.0 299.2L102.0 279.6L102.0 260.0L102.0 240.3L102.0 220.7L102.0 201.1L102.0 181.5L102.0 161.9L102.0 142.2L102.0 122.6ZM298.5 527.5L291.7 534.6L298.5 542.1L318.1 549.4L331.2 534.6L318.1 518.9Z"/>
<path fill="#ffe848" fill-rule="evenodd" d="M102.0 103.0L121.7 103.0L141.3 103.0L160.9 103.0L180.6 103.0L200.2 103.0L219.9 103.0L239.5 103.0L259.2 103.0L278.9 103.0L298.5 103.0L318.1 103.0L337.8 103.0L357.4 103.0L377.1 103.0L396.8 103.0L416.4 103.0L436.0 103.0L455.7 103.0L475.3 103.0L495.0 103.0L514.6 103.0L534.3 103.0L554.0 103.0L573.6 103.0L593.2 103.0L612.9 103.0L632.5 103.0L652.2 103.0L671.8 103.0L691.5 103.0L711.1 103.0L730.8 103.0L750.4 103.0L770.1 103.0L789.8 103.0L809.4 103.0L829.0 103.0L848.7 103.0L868.3 103.0L888.0 103.0L907.6 103.0L927.3 103.0L946.9 103.0L946.9 122.6L946.9 142.2L946.9 161.9L946.9 181.5L946.9 201.1L946.9 220.7L946.9 240.3L946.9 260.0L946.9 279.6L946.9 299.2L946.9 318.8L946.9 338.4L946.9 358.1L946.9 377.7L946.9 397.3L946.9 416.9L946.9 436.5L946.9 456.2L946.9 475.8L946.9 495.4L946.9 515.0L946.9 534.6L946.9 554.3L946.9 573.9L946.9 593.5L946.9 613.1L946.9 632.7L927.3 632.7L907.6 632.7L888.0 632.7L868.3 632.7L848.7 632.7L829.0 632.7L809.4 632.7L789.8 632.7L770.1 632.7L750.4 632.7L730.8 632.7L711.1 632.7L691.5 632.7L671.8 632.7L652.2 632.7L671.8 613.1L671.8 613.1L691.5 606.6L700.9 593.5L710.6 573.9L711.1 571.4L713.0 554.3L714.6 534.6L716.9 515.0L720.5 495.4L726.4 475.8L730.8 462.7L733.6 456.2L733.0 436.5L730.8 433.0L711.1 419.2L691.5 426.7L679.0 436.5L671.8 447.1L666.1 456.2L660.4 475.8L657.1 495.4L652.2 515.0L652.2 515.0L632.5 521.2L621.7 534.6L612.9 553.2L609.6 554.3L593.2 573.9L590.0 554.3L592.1 534.6L593.2 532.7L604.7 515.0L607.1 495.4L608.0 475.8L609.9 456.2L599.1 436.5L593.2 433.0L588.3 436.5L573.6 447.6L563.8 456.2L554.0 464.2L544.5 475.8L539.8 495.4L534.3 515.0L534.3 515.0L529.4 534.6L521.5 554.3L517.8 573.9L514.6 588.6L495.0 587.9L475.3 582.6L469.7 573.9L462.5 554.3L459.1 534.6L460.4 515.0L458.6 495.4L457.0 475.8L455.7 472.8L449.8 456.2L436.0 442.3L420.4 436.5L416.4 434.5L413.3 436.5L396.8 448.4L391.2 456.2L381.4 475.8L377.1 488.5L367.9 495.4L361.4 515.0L362.7 534.6L359.1 554.3L357.4 560.0L348.4 573.9L344.2 593.5L344.6 613.1L343.6 632.7L337.8 632.7L318.1 632.7L298.5 632.7L278.9 632.7L259.2 632.7L239.5 632.7L219.9 632.7L200.2 632.7L180.6 632.7L160.9 632.7L141.3 632.7L121.7 632.7L102.0 632.7L102.0 613.1L102.0 593.5L102.0 573.9L102.0 554.3L102.0 534.6L102.0 515.0L102.0 495.4L102.0 489.0L119.3 495.4L121.7 496.2L123.0 495.4L141.3 475.8L141.3 475.8L141.3 475.8L138.8 456.2L125.6 436.5L121.7 434.2L113.2 436.5L102.0 444.1L102.0 436.5L102.0 416.9L102.0 397.3L102.0 377.7L102.0 358.1L102.0 338.4L102.0 318.8L102.0 299.2L102.0 279.6L102.0 260.0L102.0 240.3L102.0 220.7L102.0 201.1L102.0 181.5L102.0 161.9L102.0 142.2L102.0 122.6ZM318.2 511.2L305.6 515.0L298.5 518.6L283.1 534.6L298.5 551.5L305.1 554.3L318.1 559.9L328.9 554.3L337.8 543.4L343.0 534.6L345.2 515.0L337.8 512.1ZM455.7 613.1L475.3 604.4L495.0 601.3L504.8 613.1L514.6 620.5L521.7 632.7L514.6 632.7L495.0 632.7L475.3 632.7L455.7 632.7L454.3 632.7L455.7 613.1Z"/>
<path fill="#ffc820" fill-rule="evenodd" d="M102.0 103.0L121.7 103.0L141.3 103.0L160.9 103.0L180.6 103.0L200.2 103.0L219.9 103.0L239.5 103.0L259.2 103.0L278.9 103.0L298.5 103.0L318.1 103.0L337.8 103.0L357.4 103.0L377.1 103.0L396.8 103.0L416.4 103.0L436.0 103.0L455.7 103.0L475.3 103.0L495.0 103.0L514.6 103.0L534.3 103.0L554.0 103.0L573.6 103.0L593.2 103.0L612.9 103.0L632.5 103.0L652.2 103.0L671.8 103.0L691.5 103.0L711.1 103.0L730.8 103.0L750.4 103.0L770.1 103.0L789.8 103.0L809.4 103.0L829.0 103.0L848.7 103.0L868.3 103.0L888.0 103.0L907.6 103.0L927.3 103.0L946.9 103.0L946.9 122.6L946.9 142.2L946.9 161.9L946.9 181.5L946.9 201.1L946.9 220.7L946.9 240.3L946.9 260.0L946.9 279.6L946.9 299.2L946.9 318.8L946.9 338.4L946.9 358.1L946.9 377.7L946.9 397.3L946.9 416.9L946.9 436.5L946.9 456.2L946.9 475.8L946.9 495.4L946.9 515.0L946.9 534.6L946.9 554.3L946.9 573.9L946.9 593.5L946.9 613.1L946.9 632.7L927.3 632.7L907.6 632.7L888.0 632.7L868.3 632.7L848.7 632.7L829.0 632.7L809.4 632.7L789.8 632.7L770.1 632.7L750.4 632.7L730.8 632.7L711.1 632.7L691.5 632.7L688.2 632.7L691.5 629.5L699.7 613.1L710.2 593.5L711.1 591.5L714.0 573.9L715.7 554.3L717.2 534.6L719.5 515.0L722.5 495.4L728.6 475.8L730.8 469.2L736.5 456.2L736.2 436.5L730.8 428.0L712.0 416.9L711.1 416.5L710.4 416.9L691.5 423.9L675.4 436.5L671.8 441.8L662.7 456.2L657.1 475.8L653.8 495.4L652.2 501.9L632.5 515.0L632.5 515.0L616.8 534.6L612.9 542.9L602.4 534.6L608.8 515.0L609.9 495.4L610.4 475.8L612.9 456.2L612.9 456.2L612.9 456.2L603.1 436.5L593.2 430.6L585.1 436.5L573.6 445.1L561.0 456.2L554.0 461.9L542.6 475.8L537.8 495.4L534.3 508.0L529.0 515.0L523.2 534.6L514.6 551.8L511.1 554.3L495.0 566.9L475.4 567.0L468.6 554.3L464.1 534.6L463.5 515.0L461.6 495.4L459.7 475.8L455.7 466.9L451.9 456.2L436.0 440.2L426.2 436.5L416.4 431.7L409.0 436.5L396.8 445.3L388.9 456.2L378.1 475.8L377.1 478.7L357.4 494.3L353.1 495.4L337.8 502.3L318.1 505.8L298.5 511.8L288.7 515.0L278.9 525.7L274.6 534.6L278.9 542.2L289.3 554.3L298.5 560.8L318.1 569.2L337.8 565.2L340.8 573.9L340.4 593.5L341.3 613.1L340.4 632.7L337.8 632.7L318.1 632.7L298.5 632.7L278.9 632.7L259.2 632.7L239.5 632.7L219.9 632.7L200.2 632.7L180.6 632.7L160.9 632.7L141.3 632.7L121.7 632.7L102.0 632.7L102.0 613.1L102.0 593.5L102.0 573.9L102.0 554.3L102.0 534.6L102.0 515.0L102.0 495.4L102.0 493.3L107.8 495.4L121.6 500.4L129.5 495.4L141.3 482.8L146.5 475.8L142.2 456.2L141.3 455.4L128.2 436.5L121.7 432.7L107.6 436.5L102.0 440.3L102.0 436.5L102.0 416.9L102.0 397.3L102.0 377.7L102.0 358.1L102.0 338.4L102.0 318.8L102.0 299.2L102.0 279.6L102.0 260.0L102.0 240.3L102.0 220.7L102.0 201.1L102.0 181.5L102.0 161.9L102.0 142.2L102.0 122.6ZM356.1 534.6L357.4 531.4L357.9 534.6L357.4 537.9ZM466.6 632.7L475.3 624.9L495.0 624.6L504.8 632.7L495.0 632.7L475.3 632.7Z"/>
<path fill="#ffa800" fill-rule="evenodd" d="M102.0 103.0L121.7 103.0L141.3 103.0L160.9 103.0L180.6 103.0L200.2 103.0L219.9 103.0L239.5 103.0L259.2 103.0L278.9 103.0L298.5 103.0L318.1 103.0L337.8 103.0L357.4 103.0L377.1 103.0L396.8 103.0L416.4 103.0L436.0 103.0L455.7 103.0L475.3 103.0L495.0 103.0L514.6 103.0L534.3 103.0L554.0 103.0L573.6 103.0L593.2 103.0L612.9 103.0L632.5 103.0L652.2 103.0L671.8 103.0L691.5 103.0L711.1 103.0L730.8 103.0L750.4 103.0L770.1 103.0L789.8 103.0L809.4 103.0L829.0 103.0L848.7 103.0L868.3 103.0L888.0 103.0L907.6 103.0L927.3 103.0L946.9 103.0L946.9 122.6L946.9 142.2L946.9 161.9L946.9 181.5L946.9 201.1L946.9 220.7L946.9 240.3L946.9 260.0L946.9 279.6L946.9 299.2L946.9 318.8L946.9 338.4L946.9 358.1L946.9 377.7L946.9 397.3L946.9 416.9L946.9 436.5L946.9 456.2L946.9 475.8L946.9 495.4L946.9 515.0L946.9 534.6L946.9 554.3L946.9 573.9L946.9 593.5L946.9 613.1L946.9 632.7L927.3 632.7L907.6 632.7L888.0 632.7L868.3 632.7L848.7 632.7L829.0 632.7L809.4 632.7L789.8 632.7L770.1 632.7L750.4 632.7L730.8 632.7L711.1 632.7L709.2 632.7L711.1 627.8L712.7 613.1L715.1 593.5L717.2 573.9L718.4 554.3L719.8 534.6L722.0 515.0L724.6 495.4L730.8 475.8L730.8 475.8L739.3 456.2L739.4 436.5L730.8 423.0L720.5 416.9L711.1 412.2L702.8 416.9L691.5 421.1L671.8 436.5L671.8 436.5L659.3 456.2L653.8 475.8L652.2 485.6L646.1 495.4L632.5 505.7L612.9 515.0L612.6 495.4L612.9 475.8L612.9 475.8L617.3 456.2L612.9 448.3L607.0 436.5L593.2 428.2L581.8 436.5L573.6 442.7L558.2 456.2L554.0 459.6L540.7 475.8L535.9 495.4L534.3 501.0L523.7 515.0L517.1 534.6L514.6 539.5L495.0 553.0L485.2 554.3L475.3 555.4L474.7 554.3L469.0 534.6L466.6 515.0L464.5 495.4L462.4 475.8L455.7 460.9L454.0 456.2L436.0 438.0L432.0 436.5L416.4 428.9L404.6 436.5L396.8 442.1L386.7 456.2L377.1 473.0L372.5 475.8L357.4 488.7L337.8 494.2L332.9 495.4L318.1 500.3L298.5 506.5L278.9 512.6L259.2 515.0L259.2 515.0L259.2 515.0L266.0 534.6L277.4 554.3L278.9 555.8L298.5 570.1L307.2 573.9L318.1 580.0L333.6 593.5L337.8 608.2L338.1 613.1L337.8 619.7L336.3 632.7L318.1 632.7L298.5 632.7L278.9 632.7L259.2 632.7L239.5 632.7L219.9 632.7L200.2 632.7L180.6 632.7L160.9 632.7L141.3 632.7L121.7 632.7L102.0 632.7L102.0 613.1L102.0 593.5L102.0 573.9L102.0 554.3L102.0 534.6L102.0 515.0L102.0 498.7L121.7 504.6L136.1 495.4L141.3 489.8L151.6 475.8L146.5 456.2L141.3 451.6L130.8 436.5L121.7 431.2L102.0 436.5L102.0 416.9L102.0 397.3L102.0 377.7L102.0 358.1L102.0 338.4L102.0 318.8L102.0 299.2L102.0 279.6L102.0 260.0L102.0 240.3L102.0 220.7L102.0 201.1L102.0 181.5L102.0 161.9L102.0 142.2L102.0 122.6Z"/>
<path fill="#ff8800" fill-rule="evenodd" d="M102.0 103.0L121.7 103.0L141.3 103.0L160.9 103.0L180.6 103.0L200.2 103.0L219.9 103.0L239.5 103.0L259.2 103.0L278.9 103.0L298.5 103.0L318.1 103.0L337.8 103.0L357.4 103.0L377.1 103.0L396.8 103.0L416.4 103.0L436.0 103.0L455.7 103.0L475.3 103.0L495.0 103.0L514.6 103.0L534.3 103.0L554.0 103.0L573.6 103.0L593.2 103.0L612.9 103.0L632.5 103.0L652.2 103.0L671.8 103.0L691.5 103.0L711.1 103.0L730.8 103.0L750.4 103.0L770.1 103.0L789.8 103.0L809.4 103.0L829.0 103.0L848.7 103.0L868.3 103.0L888.0 103.0L907.6 103.0L927.3 103.0L946.9 103.0L946.9 122.6L946.9 142.2L946.9 161.9L946.9 181.5L946.9 201.1L946.9 220.7L946.9 240.3L946.9 260.0L946.9 279.6L946.9 299.2L946.9 318.8L946.9 338.4L946.9 358.1L946.9 377.7L946.9 397.3L946.9 416.9L946.9 436.5L946.9 456.2L946.9 475.8L946.9 495.4L946.9 515.0L946.9 534.6L946.9 554.3L946.9 573.9L946.9 593.5L946.9 613.1L946.9 632.7L927.3 632.7L907.6 632.7L888.0 632.7L868.3 632.7L848.7 632.7L829.0 632.7L809.4 632.7L789.8 632.7L770.1 632.7L750.4 632.7L730.8 632.7L716.4 632.7L717.9 613.1L719.4 593.5L720.3 573.9L721.1 554.3L722.4 534.6L724.5 515.0L726.7 495.4L730.8 482.3L736.4 475.8L742.2 456.2L742.5 436.5L730.8 417.9L729.1 416.9L711.1 408.0L695.3 416.9L691.5 418.3L671.8 432.7L668.3 436.5L655.9 456.2L652.2 469.6L647.3 475.8L633.8 495.4L632.5 496.3L630.6 495.4L620.8 475.8L621.6 456.2L612.9 440.5L610.9 436.5L593.2 425.8L578.5 436.5L573.6 440.2L555.4 456.2L554.0 457.3L538.8 475.8L534.3 493.9L532.8 495.4L518.4 515.0L514.6 525.6L502.9 534.6L495.0 539.9L475.3 539.5L473.9 534.6L469.7 515.0L467.4 495.4L465.1 475.8L456.3 456.2L455.7 455.3L437.4 436.5L436.0 435.4L416.4 426.0L400.2 436.5L396.8 439.0L384.5 456.2L377.1 469.1L366.0 475.8L357.4 483.1L337.8 490.4L318.1 495.0L316.5 495.4L298.5 501.2L278.9 506.7L259.2 507.5L239.6 509.9L219.9 506.8L200.2 509.4L198.1 515.0L200.2 517.3L219.9 531.4L226.4 534.6L239.5 536.5L259.2 536.8L270.4 554.3L278.9 563.7L292.3 573.9L298.5 579.0L318.1 592.3L319.6 593.5L329.8 613.1L329.1 632.7L318.1 632.7L298.5 632.7L278.9 632.7L259.2 632.7L239.5 632.7L219.9 632.7L200.2 632.7L180.6 632.7L160.9 632.7L141.3 632.7L121.7 632.7L102.0 632.7L102.0 613.1L102.0 593.5L102.0 573.9L102.0 554.3L102.0 534.6L102.0 515.0L102.0 505.2L121.7 508.8L141.3 496.3L143.6 495.4L156.8 475.8L150.9 456.2L141.3 447.9L133.4 436.5L121.7 429.6L102.0 434.4L102.0 416.9L102.0 397.3L102.0 377.7L102.0 358.1L102.0 338.4L102.0 318.8L102.0 299.2L102.0 279.6L102.0 260.0L102.0 240.3L102.0 220.7L102.0 201.1L102.0 181.5L102.0 161.9L102.0 142.2L102.0 122.6ZM298.5 250.2L282.1 260.0L282.1 279.6L298.5 299.2L298.5 299.2L318.1 303.6L337.8 309.0L357.4 315.6L360.7 318.8L377.1 324.8L396.8 319.9L397.8 318.8L416.4 300.3L417.4 299.2L416.4 294.3L409.0 279.6L400.0 260.0L396.7 257.8L377.1 250.2L357.4 250.2L337.8 244.7L318.1 245.9Z"/>
<path fill="#ff6000" fill-rule="evenodd" d="M102.0 103.0L121.7 103.0L141.3 103.0L160.9 103.0L180.6 103.0L200.2 103.0L219.9 103.0L239.5 103.0L259.2 103.0L278.9 103.0L298.5 103.0L318.1 103.0L337.8 103.0L357.4 103.0L377.1 103.0L396.8 103.0L416.4 103.0L436.0 103.0L455.7 103.0L475.3 103.0L495.0 103.0L514.6 103.0L534.3 103.0L554.0 103.0L573.6 103.0L593.2 103.0L612.9 103.0L632.5 103.0L652.2 103.0L671.8 103.0L691.5 103.0L711.1 103.0L730.8 103.0L750.4 103.0L770.1 103.0L789.8 103.0L809.4 103.0L829.0 103.0L848.7 103.0L868.3 103.0L888.0 103.0L907.6 103.0L927.3 103.0L946.9 103.0L946.9 122.6L946.9 142.2L946.9 161.9L946.9 181.5L946.9 201.1L946.9 220.7L946.9 240.3L946.9 260.0L946.9 279.6L946.9 299.2L946.9 318.8L946.9 338.4L946.9 358.1L946.9 377.7L946.9 397.3L946.9 416.9L946.9 436.5L946.9 456.2L946.9 475.8L946.9 495.4L946.9 515.0L946.9 534.6L946.9 554.3L946.9 573.9L946.9 593.5L946.9 613.1L946.9 632.7L927.3 632.7L907.6 632.7L888.0 632.7L868.3 632.7L848.7 632.7L829.0 632.7L809.4 632.7L789.8 632.7L770.1 632.7L750.4 632.7L730.8 632.7L722.1 632.7L723.0 613.1L723.8 593.5L723.5 573.9L723.8 554.3L725.0 534.6L727.0 515.0L728.7 495.4L730.8 488.9L742.0 475.8L745.0 456.2L745.7 436.5L734.9 416.9L730.8 412.4L711.1 403.7L691.5 413.9L688.8 416.9L671.8 428.8L664.7 436.5L652.5 456.2L652.2 457.4L637.5 475.8L632.5 482.8L628.6 475.8L626.0 456.2L615.6 436.5L612.9 434.1L593.2 423.4L575.2 436.5L573.6 437.8L554.0 454.2L551.9 456.2L536.9 475.8L534.3 486.3L525.2 495.4L514.6 511.6L502.9 515.0L495.0 519.9L475.4 525.5L472.9 515.0L470.4 495.4L467.8 475.8L459.6 456.2L455.7 450.8L441.7 436.5L436.0 431.5L416.4 423.2L396.8 435.6L396.0 436.5L382.2 456.2L377.1 465.2L359.4 475.8L357.4 477.5L337.8 486.6L318.1 491.0L300.1 495.4L298.5 495.9L278.9 500.8L259.2 499.9L239.5 499.5L228.3 495.4L219.9 494.0L200.2 492.3L180.6 491.9L173.2 495.4L180.6 501.9L187.2 515.0L200.2 528.9L207.3 534.6L219.9 542.7L239.6 545.9L259.2 547.7L263.4 554.3L278.9 571.5L282.0 573.9L298.5 587.5L307.1 593.5L318.1 608.2L320.8 613.1L321.8 632.7L318.1 632.7L298.5 632.7L278.9 632.7L259.2 632.7L239.5 632.7L219.9 632.7L200.2 632.7L180.6 632.7L160.9 632.7L141.3 632.7L121.7 632.7L102.0 632.7L102.0 613.1L102.0 593.5L102.0 573.9L102.0 554.3L102.0 534.6L102.0 515.0L102.0 511.8L121.7 512.9L141.3 501.0L155.2 495.4L160.9 481.4L163.4 475.8L160.9 473.2L155.3 456.2L141.3 444.1L136.1 436.5L121.7 428.1L102.0 432.2L102.0 416.9L102.0 397.3L102.0 377.7L102.0 358.1L102.0 338.4L102.0 318.8L102.0 299.2L102.0 279.6L102.0 260.0L102.0 240.3L102.0 220.7L102.0 201.1L102.0 181.5L102.0 161.9L102.0 142.2L102.0 122.6ZM121.7 277.8L119.9 279.6L121.7 280.6L141.3 284.9L160.9 283.0L166.6 279.6L160.9 263.9L141.3 272.2ZM298.5 181.5L298.5 181.5L278.9 188.8L259.2 201.1L259.2 201.1L239.5 220.7L239.5 220.7L219.9 240.3L219.9 240.3L200.2 250.2L180.6 252.6L163.8 260.0L180.6 267.3L200.2 269.8L214.3 279.6L219.9 287.4L239.6 295.9L249.4 299.2L259.2 302.0L278.9 310.1L296.3 318.8L298.5 319.6L318.1 323.5L337.8 326.7L357.4 331.4L377.1 336.7L396.8 330.8L408.8 318.8L416.4 311.2L427.8 299.2L436.0 284.9L441.9 279.6L445.9 260.0L436.0 250.2L416.4 243.6L409.9 240.3L396.8 232.5L385.0 220.7L377.1 207.6L373.8 201.1L357.4 191.3L337.8 187.1L318.1 181.5L318.1 181.5ZM671.8 106.3L659.6 122.6L652.2 142.2L652.2 142.2L644.8 161.9L643.8 181.5L645.6 201.1L645.6 220.7L643.8 240.3L646.6 260.0L646.6 279.6L652.2 285.2L662.0 299.2L671.8 318.8L671.8 318.8L691.5 325.8L711.1 321.1L714.7 318.8L727.5 299.2L730.8 295.9L740.6 279.6L750.4 260.0L750.4 260.0L750.4 240.3L750.4 240.3L745.5 220.7L734.1 201.1L730.8 196.2L723.4 181.5L721.0 161.9L714.4 142.2L711.1 137.3L703.8 122.6L691.5 106.3Z"/>
<path fill="#ff2000" fill-rule="evenodd" d="M102.0 103.0L121.7 103.0L141.3 103.0L160.9 103.0L180.6 103.0L200.2 103.0L219.9 103.0L239.5 103.0L244.1 103.0L239.5 122.6L239.5 122.6L226.5 142.2L219.9 152.1L216.6 161.9L200.2 181.5L200.2 181.5L180.6 197.8L177.3 201.1L160.9 210.9L141.3 210.9L121.7 220.7L121.7 220.7L105.3 240.3L102.0 243.6L102.0 240.3L102.0 220.7L102.0 201.1L102.0 181.5L102.0 161.9L102.0 142.2L102.0 122.6ZM377.1 103.0L396.8 103.0L416.4 103.0L436.0 103.0L455.7 103.0L475.3 103.0L495.0 103.0L514.6 103.0L534.3 103.0L554.0 103.0L573.6 103.0L593.2 103.0L596.5 103.0L598.9 122.6L598.9 142.2L598.9 161.9L598.9 181.5L598.9 201.1L598.9 220.7L600.6 240.3L612.9 260.0L612.9 279.6L612.9 299.2L612.9 318.8L612.9 318.8L632.5 327.7L652.2 322.2L671.8 331.9L688.2 338.4L691.5 339.4L694.8 338.4L711.1 332.7L730.8 319.5L732.6 318.8L750.4 299.2L750.4 299.2L770.1 285.2L775.7 279.6L789.8 267.3L809.4 265.6L829.0 271.7L838.9 279.6L848.7 287.4L868.3 289.4L875.7 279.6L880.6 260.0L875.7 240.3L876.8 220.7L888.0 205.0L903.7 220.7L907.6 224.0L927.3 237.1L930.6 240.3L946.9 256.7L946.9 260.0L946.9 279.6L946.9 299.2L946.9 318.8L946.9 338.4L946.9 358.1L946.9 377.7L946.9 397.3L946.9 416.9L946.9 436.5L946.9 456.2L946.9 475.8L946.9 495.4L946.9 515.0L946.9 534.6L946.9 534.6L927.3 551.0L923.4 554.3L907.6 563.0L888.0 564.1L868.3 557.5L864.4 554.3L848.7 541.2L840.8 534.6L829.0 526.2L816.0 515.0L809.4 511.1L793.7 495.4L789.8 492.3L770.1 479.1L753.7 495.4L760.3 515.0L766.2 534.6L770.1 549.4L773.4 554.3L782.4 573.9L789.8 593.5L789.8 593.5L793.0 613.1L789.8 618.0L770.1 613.1L770.1 613.1L770.1 613.1L766.8 632.7L750.4 632.7L730.8 632.7L727.9 632.7L728.2 613.1L728.2 593.5L726.7 573.9L726.5 554.3L727.7 534.6L729.5 515.0L730.8 495.4L730.8 495.4L747.6 475.8L747.9 456.2L748.9 436.5L740.1 416.9L730.8 406.8L711.1 399.4L691.5 408.0L683.3 416.9L671.8 425.0L661.1 436.5L652.2 451.0L639.6 456.2L632.5 466.0L630.4 456.2L621.1 436.5L612.9 429.4L593.2 421.0L573.6 434.3L571.1 436.5L554.0 450.2L547.7 456.2L535.1 475.8L534.3 478.8L517.7 495.4L514.6 500.0L495.0 502.9L475.4 510.7L473.3 495.4L470.5 475.8L462.8 456.2L455.7 446.4L446.1 436.5L436.0 427.7L416.4 420.3L396.8 430.9L392.0 436.5L380.0 456.2L377.1 461.3L357.4 472.7L351.9 475.8L337.8 482.7L318.1 487.0L298.5 490.9L278.9 494.8L259.2 493.4L239.5 491.8L219.9 489.2L200.2 486.2L180.6 480.4L175.7 475.8L160.9 460.1L159.6 456.2L141.3 440.3L138.7 436.5L121.7 426.6L102.0 430.0L102.0 416.9L102.0 397.3L102.0 377.7L102.0 358.1L102.0 338.4L102.0 318.8L102.0 299.2L121.7 301.1L141.3 302.5L160.9 299.9L163.8 299.2L180.6 291.8L189.0 299.2L200.2 307.9L216.6 318.8L219.9 320.8L239.5 329.7L259.2 327.5L278.9 331.9L298.5 335.3L314.2 338.4L318.1 339.2L337.8 341.8L357.4 344.8L377.1 347.0L396.8 340.8L399.7 338.4L416.4 321.8L418.9 318.8L436.0 300.9L437.9 299.2L455.7 282.3L459.9 279.6L475.3 263.0L481.0 260.0L481.0 240.3L475.3 227.3L472.1 220.7L462.2 201.1L455.7 194.6L440.0 181.5L436.0 176.6L421.3 161.9L416.4 157.9L405.2 142.2L396.8 130.5L388.9 122.6ZM125.6 515.0L141.3 505.7L160.9 502.9L174.1 515.0L180.6 520.6L193.7 534.6L200.2 541.4L219.9 551.6L234.6 554.3L239.5 555.6L259.2 559.2L271.6 573.9L278.9 583.0L293.1 593.5L298.5 600.9L306.7 613.1L309.2 632.7L298.5 632.7L278.9 632.7L259.2 632.7L239.5 632.7L219.9 632.7L200.2 632.7L180.6 632.7L160.9 632.7L141.3 632.7L121.7 632.7L102.0 632.7L102.0 613.1L102.0 593.5L102.0 573.9L102.0 557.5L105.3 554.3L121.7 537.9L122.2 534.6Z"/>
<path fill="#e80000" fill-rule="evenodd" d="M102.0 103.0L121.7 103.0L141.3 103.0L160.9 103.0L172.7 103.0L160.9 122.6L160.9 122.6L141.3 136.6L131.5 142.2L121.7 147.8L102.0 161.9L102.0 142.2L102.0 122.6ZM465.5 103.0L475.3 103.0L495.0 103.0L514.6 103.0L534.3 103.0L554.0 103.0L561.8 103.0L557.2 122.6L554.0 127.5L542.2 142.2L534.3 147.8L514.6 149.6L502.9 142.2L495.0 136.6L475.3 122.6L475.3 122.6ZM473.9 279.6L475.3 278.1L495.0 270.9L514.6 267.3L534.3 265.6L554.0 274.0L559.6 279.6L573.6 295.9L576.9 299.2L573.6 309.0L570.3 318.8L568.0 338.4L570.3 358.1L573.6 359.8L593.2 358.4L593.9 358.1L612.9 343.6L632.5 341.7L652.2 338.8L671.8 343.1L691.5 349.2L711.1 341.7L715.8 338.4L730.8 326.8L750.4 318.8L750.4 318.8L770.1 311.5L789.8 311.0L809.4 314.9L829.0 318.8L829.0 318.8L848.7 324.9L868.3 330.6L888.0 330.6L907.6 326.7L927.3 322.7L946.9 318.8L946.9 338.4L946.9 358.1L946.9 377.7L946.9 397.3L946.9 416.9L946.9 436.5L946.9 446.4L931.2 456.2L927.3 459.0L918.9 475.8L907.6 487.0L888.0 495.4L888.0 495.4L868.3 498.7L848.7 498.7L829.0 495.4L829.0 495.4L809.4 491.0L789.8 476.6L788.7 475.8L770.1 456.2L770.1 456.2L756.1 436.5L750.5 430.0L745.3 416.9L730.8 401.2L719.3 397.3L711.1 394.2L703.6 397.3L691.5 402.1L677.9 416.9L671.8 421.2L657.6 436.5L652.2 445.2L632.5 450.0L626.5 436.5L612.9 424.6L593.2 418.6L573.6 429.9L566.0 436.5L554.0 446.1L543.5 456.2L534.3 471.6L525.9 475.8L514.6 487.0L495.0 489.3L475.3 490.0L473.2 475.8L466.0 456.2L455.7 441.9L450.5 436.5L436.0 423.8L416.4 417.5L396.8 426.3L388.1 436.5L377.8 456.2L377.1 457.3L357.4 468.2L344.1 475.8L337.8 478.9L318.1 483.0L298.5 485.8L278.9 488.7L259.2 488.4L239.6 485.9L219.9 484.4L200.2 480.1L189.7 475.8L180.6 471.9L165.4 456.2L160.9 453.0L141.3 436.5L141.3 436.5L121.7 425.0L102.0 427.8L102.0 416.9L102.0 397.3L102.0 377.7L102.0 358.1L102.0 338.4L102.0 318.8L102.0 317.0L115.1 318.8L121.7 320.3L141.3 318.8L141.3 318.8L160.9 314.5L180.6 310.6L190.4 318.8L200.2 329.7L216.0 338.4L219.9 341.5L239.5 352.0L259.2 350.7L278.9 352.2L298.5 350.5L318.1 353.7L337.8 355.4L357.4 357.4L377.1 357.1L396.8 348.9L409.5 338.4L416.4 331.6L427.0 318.8L436.0 309.4L447.3 299.2L455.7 291.2ZM133.4 515.0L141.3 510.3L157.7 515.0L160.9 520.6L180.6 534.6L180.6 534.6L198.7 554.3L200.2 555.2L219.9 564.1L239.5 568.6L259.2 571.4L261.3 573.9L274.9 593.5L278.9 601.3L286.2 613.1L289.8 632.7L278.9 632.7L259.2 632.7L239.5 632.7L219.9 632.7L200.2 632.7L180.6 632.7L160.9 632.7L141.3 632.7L121.7 632.7L116.7 632.7L116.7 613.1L121.7 593.5L121.7 593.5L123.0 573.9L124.6 554.3L127.3 534.6ZM730.3 534.6L730.8 529.0L750.4 529.0L753.1 534.6L752.4 554.3L750.4 564.1L745.5 573.9L730.8 582.3L729.8 573.9L729.2 554.3Z"/>
<path fill="#d00000" fill-rule="evenodd" d="M458.5 299.2L475.3 291.4L495.0 290.3L514.6 289.4L528.7 299.2L531.8 318.8L532.1 338.4L534.3 358.1L534.3 358.1L548.3 377.7L554.0 380.7L573.6 377.7L573.6 377.7L593.2 365.8L607.5 358.1L612.9 353.9L632.5 349.9L652.2 346.5L671.8 352.5L688.7 358.1L691.5 359.3L692.7 358.1L711.1 348.2L725.2 338.4L730.8 334.1L750.4 330.4L770.1 331.9L789.8 337.3L796.3 338.4L809.4 341.7L829.0 347.4L848.7 355.0L855.2 358.1L868.3 364.6L888.0 369.8L907.6 373.8L912.6 377.7L915.5 397.3L907.6 405.1L888.0 413.0L883.1 416.9L868.3 426.7L861.0 436.5L865.1 456.2L848.7 470.2L829.0 473.3L809.4 469.9L789.8 459.6L786.5 456.2L770.1 440.5L767.3 436.5L750.4 416.9L750.4 416.9L733.6 397.3L730.8 394.5L711.1 388.1L691.5 395.0L689.4 397.3L672.4 416.9L671.8 417.3L654.0 436.5L652.2 439.4L632.5 437.8L632.0 436.5L612.9 419.8L599.8 416.9L593.2 415.0L590.6 416.9L573.6 425.4L561.0 436.5L554.0 442.1L539.3 456.2L534.3 464.6L514.6 473.7L501.6 475.8L495.0 477.0L488.4 475.8L475.3 473.9L469.2 456.2L455.7 437.4L454.8 436.5L436.0 420.0L426.2 416.9L416.4 413.3L407.7 416.9L396.8 421.6L384.2 436.5L377.1 450.7L371.4 456.2L357.4 463.7L337.8 474.1L333.9 475.8L318.1 479.0L298.5 480.8L278.9 482.5L259.2 483.3L239.5 479.9L219.9 479.6L205.6 475.8L200.2 473.3L180.6 465.3L171.7 456.2L160.9 448.6L146.6 436.5L141.3 434.1L121.7 423.5L102.0 425.6L102.0 416.9L102.0 397.3L102.0 377.7L102.0 358.1L102.0 340.7L121.7 344.3L141.3 339.4L145.7 338.4L160.9 331.9L180.6 332.8L185.5 338.4L200.2 354.1L205.2 358.1L219.9 367.4L239.5 373.5L255.3 377.7L259.2 378.3L269.0 377.7L278.9 376.4L298.5 366.0L318.1 369.5L337.8 371.1L357.4 370.9L377.1 364.9L393.9 358.1L396.8 356.9L416.4 341.7L419.7 338.4L435.2 318.8L436.0 318.0L455.7 300.4ZM132.5 534.6L141.3 515.0L156.5 534.6L158.1 554.3L160.9 573.9L160.9 573.9L160.9 573.9L180.6 567.3L200.2 573.9L200.2 573.9L219.9 581.2L239.6 587.0L251.3 593.5L259.2 600.0L266.3 613.1L269.0 632.7L259.2 632.7L239.5 632.7L219.9 632.7L200.2 632.7L180.6 632.7L160.9 632.7L141.3 632.7L134.3 632.7L130.5 613.1L128.7 593.5L129.5 573.9L130.6 554.3Z"/>
<path fill="#e04048" fill-rule="evenodd" d="M448.7 318.8L455.7 312.7L475.4 307.9L495.0 311.5L504.8 318.8L509.0 338.4L495.0 352.5L489.4 358.1L492.5 377.7L495.0 379.2L514.6 383.0L534.3 391.7L554.0 395.8L573.6 385.5L585.9 377.7L593.2 373.2L612.9 363.7L632.5 358.1L632.5 358.1L652.2 354.2L663.1 358.1L671.8 365.2L691.5 371.5L705.0 358.1L711.1 354.8L730.8 347.2L750.4 345.8L770.1 351.9L780.8 358.1L789.8 365.1L809.4 374.4L816.0 377.7L829.0 384.2L840.3 397.3L838.0 416.9L829.0 425.8L809.4 429.2L789.8 428.0L770.1 428.1L760.3 416.9L750.4 406.0L743.0 397.3L730.8 385.2L711.1 382.0L691.5 383.5L679.1 397.3L671.8 405.9L661.4 416.9L652.2 429.0L632.5 423.9L621.6 416.9L612.9 413.4L593.2 408.7L581.6 416.9L573.6 420.9L556.0 436.5L554.0 438.1L535.1 456.2L534.3 457.6L514.6 463.4L495.0 464.7L475.3 464.6L472.5 456.2L461.7 436.5L455.7 428.3L439.1 416.9L436.0 415.0L416.4 408.7L396.8 416.9L396.8 416.9L380.2 436.5L377.1 442.8L363.2 456.2L357.4 459.3L337.8 466.0L318.1 473.8L298.5 475.8L298.5 475.8L278.9 476.4L259.2 478.3L246.9 475.8L239.5 472.7L219.9 473.3L200.2 465.2L180.6 458.8L178.1 456.2L160.9 444.1L151.9 436.5L141.3 431.6L121.7 422.0L102.0 423.5L102.0 416.9L102.0 397.3L102.0 377.7L102.0 358.1L102.0 350.4L120.5 358.1L121.7 358.7L122.7 358.1L141.3 349.2L160.9 346.7L180.6 358.1L180.6 358.1L200.2 368.8L211.7 377.7L219.9 385.9L237.1 397.3L239.5 398.1L242.8 397.3L259.2 391.0L278.9 387.8L298.5 381.7L318.1 387.5L337.8 387.5L357.4 383.5L365.6 377.7L377.1 372.4L396.8 365.2L409.1 358.1L416.4 352.6L430.6 338.4L436.0 331.4ZM137.7 534.6L141.3 526.6L147.6 534.6L148.8 554.3L150.0 573.9L153.4 593.5L146.2 613.1L141.3 616.4L140.3 613.1L135.7 593.5L136.1 573.9L136.5 554.3Z"/>
<path fill="#ffb0b0" fill-rule="evenodd" d="M102.0 377.7L102.0 363.7L121.7 371.4L141.3 361.3L160.9 361.3L180.6 373.2L190.4 377.7L200.2 385.0L212.5 397.3L219.9 400.6L239.6 405.6L259.2 402.2L278.9 398.5L298.5 397.3L318.1 407.1L337.8 404.4L350.9 397.3L357.4 395.0L377.1 382.2L384.5 377.7L396.8 373.5L416.4 367.9L436.0 367.9L448.3 377.7L455.7 385.0L475.3 385.0L495.0 394.3L504.8 397.3L514.6 400.6L534.3 407.1L554.0 407.7L566.6 397.3L573.6 393.4L593.2 384.2L602.0 377.7L612.9 373.0L632.5 369.0L652.2 365.6L666.5 377.7L666.5 397.3L652.2 413.0L632.5 409.4L612.9 404.4L593.2 402.4L573.6 413.6L571.4 416.9L554.0 428.1L548.3 436.5L534.3 449.3L514.6 452.9L495.0 452.9L475.3 454.0L469.3 436.5L455.7 418.0L454.2 416.9L436.0 405.1L416.4 404.1L396.8 409.1L386.9 416.9L377.1 433.3L374.8 436.5L357.4 452.9L345.7 456.2L337.8 457.8L318.1 464.0L298.5 466.0L278.9 464.0L259.2 467.6L239.5 462.4L219.9 461.1L200.2 457.0L197.4 456.2L180.6 452.4L160.9 439.7L157.2 436.5L141.3 429.2L121.7 420.4L102.0 421.3L102.0 416.9L102.0 397.3ZM763.5 397.3L770.1 390.8L776.7 397.3L770.1 416.9Z"/>
<path d="M158.4 104L200.2 456L221.1 632" fill="none" stroke="#b0d4f0" stroke-width="1"/>
<path d="M102 521.8L292 497.1L520 467.3L748 436.8L948 409.4" fill="none" stroke="#b0d4f0" stroke-width="1"/>
<path d="M102.1 296.7L113.3 294.1L122.2 292.7L123.6 286.0L127.3 285.3L141.4 291.9L145.8 291.2L148.7 291.9L160.6 290.5L162.8 278.6L165.0 276.4L169.4 281.6L176.8 283.8L179.8 280.8L187.9 279.4L188.6 286.0L194.5 288.2L198.2 286.0L201.2 289.7L201.9 293.4L199.0 297.8L200.4 309.7L203.4 315.6L209.3 319.3L218.2 320.0L230.0 318.5L240.0 314.8L252.3 313.8L260.8 310.6L271.3 315.9L281.9 314.9L292.0 313.8L290.4 312.7L292.5 315.3L301.0 311.7L307.3 309.6L315.8 308.9L324.2 307.5L343.2 302.2L345.3 303.9L354.8 303.2L355.8 308.5L362.2 313.8L372.7 321.2L376.9 324.3L381.2 323.3L391.7 321.2L400.1 319.1L412.8 311.7L417.0 309.6L429.7 302.2L436.0 303.2L444.4 295.9L457.1 289.5L467.7 285.3L475.2 282.2L482.0 283.2L482.5 284.3L491.0 286.4L495.2 287.4L499.4 284.3L512.1 283.2L522.6 280.0L524.7 283.2L523.7 288.5L519.5 294.8L513.1 299.0L508.3 302.2L509.6 308.9L506.8 315.3L508.3 323.3L513.4 325.8L514.6 335.9L517.6 340.6L512.1 348.6L507.9 351.1L507.0 359.2L511.2 365.5L510.0 373.9L514.2 380.7L517.1 386.6L519.3 395.0L526.9 397.6L533.2 395.0L541.6 398.4L550.1 399.2L556.4 402.2L562.7 397.1L566.9 386.6L569.9 376.5L575.4 373.9L581.7 369.7L588.0 363.4L590.1 357.0L594.4 354.9L602.8 357.5L611.2 354.9L617.6 346.5L623.9 343.5L632.3 340.2L638.7 329.6L647.1 324.6L655.5 321.2L659.8 319.1L661.9 323.3L672.0 326.7L668.3 326.5L674.7 322.2L683.1 321.2L685.2 324.3L682.0 329.6L685.2 333.8L695.8 335.5L706.3 331.7L707.2 333.0L710.4 325.0L713.5 318.7L716.7 315.5L720.5 312.3L723.7 307.3L727.5 302.8L729.4 297.2L728.1 292.1L731.9 288.3L734.4 283.2L738.2 285.8L742.0 285.1L744.6 282.6L749.6 280.7L754.7 279.4L758.5 274.4L763.5 273.1L764.8 268.0L767.3 263.0L766.7 257.9L763.5 260.4L758.5 259.2L755.9 261.7L752.2 263.0L754.1 267.4L750.9 269.3L749.0 273.1L751.5 275.6L755.9 275.6M754.7 280.7L750.9 284.5L747.1 289.6L748.4 297.2L750.9 302.2L754.7 308.5L755.9 314.9L753.4 318.7L754.7 323.7L759.7 327.5L766.1 329.4L771.1 327.5L774.3 322.5L776.2 326.3L777.0 331.7L771.7 338.1L763.3 342.3L761.2 350.7L765.4 361.3L765.4 373.9L760.1 382.4L763.3 388.7L756.9 399.2L752.7 411.9L749.6 420.8L741.9 424.7L738.1 428.5L730.5 431.3L722.9 434.2L715.3 437.0L711.5 440.8L703.9 443.7L696.3 445.6L691.6 445.6L690.6 438.0L684.9 436.1L677.3 436.1L669.7 438.0L662.1 440.8L654.6 440.8L650.8 438.0L645.1 434.2L639.4 432.3L633.7 433.2L626.1 437.0L618.5 438.0L610.9 438.9L603.3 441.8L595.7 445.6L591.9 449.4L588.6 448.9L581.0 453.9L570.9 459.0L560.8 462.8L550.6 464.1L541.6 461.3L533.2 462.3L520.5 461.3L512.1 460.2L503.6 463.4L493.1 465.5L482.5 467.6L472.0 469.7L471.9 470.8L463.4 473.9L455.0 479.2L446.6 483.4L438.1 485.5L429.7 489.8L417.0 488.7L408.6 487.6L400.1 489.8L391.7 491.9L385.4 489.8L376.9 487.6L368.5 489.8L362.2 494.0L355.8 497.1L345.3 499.2L336.9 500.3L330.5 503.5L327.4 511.9L317.9 516.1L309.4 519.3L301.0 522.5L293.6 526.7L291.5 523.1L282.0 523.5L284.0 523.5L275.5 524.6L267.1 527.7L260.8 533.0L254.4 537.2L248.1 538.7L243.9 536.2L235.5 537.2L227.0 538.3L220.7 542.5L212.3 545.7L203.8 546.7L195.4 548.8L186.9 549.9L178.5 553.5L170.1 552.0L161.6 553.5L151.1 551.4L140.5 550.9L130.0 553.5L123.6 556.2L121.5 560.4L111.0 561.5L101.9 564.6M509.6 305.4L517.4 307.5L523.7 317.0L524.7 325.4L522.2 329.6L514.2 323.3L510.0 325.8M571.2 359.2L573.3 352.8L578.5 351.8L579.6 354.1L575.4 359.2L574.3 363.8L571.2 359.2M774.9 277.5L778.1 279.4L783.8 280.7L785.1 283.2L781.3 285.1L777.5 283.9L775.6 280.7L774.9 277.5M762.9 325.0L768.6 318.0L770.5 319.3L765.4 325.6L762.9 325.0L769.2 318.9L767.3 322.5M701.5 245.9L698.4 251.6L697.7 256.6L693.9 261.7L693.3 265.5L699.0 265.5L704.1 264.2L707.8 261.7L709.7 256.6L708.5 250.3L705.3 247.2L701.5 245.9M699.0 259.8L704.1 257.9L708.5 250.9M257.0 255.7L261.3 248.0L270.3 244.0L278.7 247.3L285.3 250.7L286.0 260.7L282.0 267.3L277.3 263.3L272.0 259.0L265.3 260.7L258.7 259.0L257.0 255.7M278.7 249.0L280.3 260.7M515.2 541.4L517.4 535.1L522.6 533.0L535.3 533.6L539.5 530.9L541.6 534.1L535.3 537.2L529.0 541.4L522.6 540.4L515.2 541.4M709.6 464.6L711.9 468.4L708.7 474.0L713.4 472.1L721.0 473.1L722.9 475.9L717.6 479.7L713.8 483.5L712.5 489.2L710.0 482.0L708.9 475.9L709.6 464.6" fill="none" stroke="#000" stroke-width="2" stroke-linejoin="round" stroke-linecap="round"/><circle cx="298.0" cy="257.0" r="1.3" fill="#000"/><circle cx="545.2067510548524" cy="533.0042194092827" r="1.8" fill="#000"/><circle cx="697.7215189873418" cy="235.7594936708861" r="2.0" fill="#000"/><circle cx="742.6582278481012" cy="271.8354430379747" r="1.3" fill="#000"/><circle cx="745.8227848101266" cy="275.63291139240505" r="1.3" fill="#000"/><circle cx="749.5527426160338" cy="421.3924050632911" r="2.6" fill="#000"/>
<path d="M103.7 112.1L100.3 133.2M105.0 126.5L100.3 133.2L98.0 125.4M142.8 112.0L139.8 133.2M144.4 126.5L139.8 133.2L137.3 125.5M181.8 112.6L179.4 132.6M183.5 126.2L179.4 132.6L176.9 125.4M221.0 112.6L218.8 132.6M222.9 126.1L218.8 132.6L216.2 125.4M260.0 113.2L258.4 132.0M262.1 125.9L258.4 132.0L255.8 125.3M299.2 113.2L297.8 132.0M301.4 125.8L297.8 132.0L295.1 125.4M338.4 113.2L337.2 132.1M340.8 125.8L337.2 132.1L334.5 125.4M377.6 113.1L376.6 132.2M380.1 125.8L376.6 132.2L373.8 125.5M416.8 112.6L416.0 132.7M419.6 125.9L416.0 132.7L412.9 125.7M456.0 112.6L455.4 132.7M459.0 125.9L455.4 132.7L452.3 125.7M495.2 111.9L494.8 133.3M498.5 126.1L494.8 133.3L491.4 125.9M534.4 111.9L534.2 133.3M537.8 126.0L534.2 133.3L530.7 126.0M573.6 112.6L573.6 132.7M576.9 125.8L573.6 132.7L570.2 125.8M612.7 113.2L613.1 132.1M616.1 125.6L613.1 132.1L609.8 125.7M651.8 113.3L652.6 131.9M655.4 125.5L652.6 131.9L649.2 125.7M691.0 113.8L692.0 131.5M694.6 125.2L692.0 131.5L688.7 125.6M730.1 113.2L731.5 132.1M734.2 125.4L731.5 132.1L727.9 125.8M769.3 113.2L770.9 132.0M773.5 125.4L770.9 132.0L767.2 125.9M808.6 113.2L810.2 132.0M812.8 125.3L810.2 132.0L806.5 125.9M847.8 113.2L849.6 132.0M852.1 125.3L849.6 132.0L845.8 125.9M887.1 113.2L888.9 132.0M891.4 125.3L888.9 132.0L885.1 125.9M926.4 113.2L928.2 132.0M930.7 125.3L928.2 132.0L924.5 125.9M123.2 131.9L120.1 152.6M124.6 146.0L120.1 152.6L117.7 145.0M162.3 132.3L159.6 152.2M163.9 145.8L159.6 152.2L157.2 145.0M201.4 132.2L199.1 152.2M203.2 145.8L199.1 152.2L196.6 145.0M240.5 132.6L238.6 151.8M242.5 145.6L238.6 151.8L236.1 145.0M279.6 132.8L278.1 151.7M281.7 145.5L278.1 151.7L275.5 145.0M318.8 132.8L317.5 151.7M321.1 145.5L317.5 151.7L314.8 145.0M358.0 132.8L356.9 151.7M360.4 145.4L356.9 151.7L354.1 145.0M397.2 132.7L396.3 151.8M399.8 145.4L396.3 151.8L393.4 145.1M436.4 132.2L435.7 152.3M439.3 145.6L435.7 152.3L432.6 145.3M475.6 132.2L475.1 152.3M478.6 145.5L475.1 152.3L471.9 145.3M514.8 131.7L514.5 152.8M518.1 145.6L514.5 152.8L511.1 145.5M554.0 132.1L553.9 152.4M557.3 145.5L553.9 152.4L550.5 145.4M593.2 132.4L593.3 152.1M596.6 145.3L593.3 152.1L590.0 145.4M632.2 132.8L632.9 151.7M635.8 145.1L632.9 151.7L629.5 145.3M671.4 133.4L672.3 151.1M674.9 144.9L672.3 151.1L669.1 145.2M710.5 133.2L711.8 151.3M714.4 144.9L711.8 151.3L708.4 145.3M749.6 132.8L751.3 151.7M753.9 144.9L751.3 151.7L747.6 145.5M788.8 132.8L790.7 151.6M793.2 144.9L790.7 151.6L786.9 145.5M828.0 132.8L830.1 151.6M832.5 144.9L830.1 151.6L826.2 145.6M867.3 132.8L869.4 151.6M871.8 144.9L869.4 151.6L865.5 145.6M906.6 132.8L908.7 151.6M911.1 144.9L908.7 151.6L904.9 145.6M103.6 151.6L100.4 172.1M104.9 165.6L100.4 172.1L98.1 164.6M142.7 151.9L139.9 171.8M144.2 165.5L139.9 171.8L137.5 164.6M181.8 151.9L179.4 171.8M183.5 165.4L179.4 171.8L176.9 164.6M220.9 152.2L218.9 171.5M222.8 165.3L218.9 171.5L216.4 164.6M260.0 152.4L258.4 171.3M262.1 165.1L258.4 171.3L255.8 164.6M299.2 152.4L297.8 171.3M301.4 165.1L297.8 171.3L295.1 164.6M338.4 152.4L337.2 171.3M340.7 165.1L337.2 171.3L334.5 164.6M377.6 152.4L376.6 171.3M380.1 165.0L376.6 171.3L373.8 164.7M416.8 152.2L416.0 171.5M419.5 165.1L416.0 171.5L413.0 164.8M456.1 151.8L455.3 171.9M458.9 165.2L455.3 171.9L452.2 164.9M495.2 151.8L494.8 171.9M498.3 165.1L494.8 171.9L491.6 165.0M534.4 151.8L534.2 171.9M537.6 165.1L534.2 171.9L530.9 165.0M573.6 151.8L573.6 171.9M576.9 165.1L573.6 171.9L570.2 165.0M612.7 152.4L613.1 171.3M616.1 164.8L613.1 171.3L609.8 164.9M651.7 152.9L652.7 170.8M655.3 164.5L652.7 170.8L649.4 164.8M690.8 153.0L692.2 170.7M694.7 164.4L692.2 170.7L688.8 164.9M729.9 152.6L731.7 171.2M734.2 164.5L731.7 171.2L728.0 165.1M769.1 152.5L771.1 171.3M773.6 164.5L771.1 171.3L767.3 165.2M808.2 152.5L810.6 171.2M812.9 164.4L810.6 171.2L806.6 165.2M847.5 152.5L849.9 171.2M852.2 164.4L849.9 171.2L845.9 165.2M886.8 152.5L889.2 171.2M891.5 164.4L889.2 171.2L885.3 165.2M926.1 152.5L928.5 171.2M930.8 164.4L928.5 171.2L924.6 165.2M123.1 171.5L120.2 191.4M124.5 185.1L120.2 191.4L117.9 184.1M162.3 171.5L159.6 191.5M163.9 185.1L159.6 191.5L157.2 184.2M201.4 171.8L199.1 191.2M203.1 184.9L199.1 191.2L196.7 184.2M240.5 172.1L238.6 190.9M242.4 184.8L238.6 190.9L236.1 184.2M279.6 172.2L278.1 190.8M281.7 184.7L278.1 190.8L275.5 184.2M318.8 172.4L317.5 190.6M321.0 184.6L317.5 190.6L314.9 184.1M358.1 172.0L356.8 190.9M360.4 184.7L356.8 190.9L354.1 184.3M397.3 172.0L396.2 190.9M399.7 184.6L396.2 190.9L393.4 184.3M436.5 171.8L435.6 191.2M439.1 184.7L435.6 191.2L432.7 184.4M475.7 171.4L475.0 191.5M478.6 184.8L475.0 191.5L471.9 184.6M514.9 171.4L514.4 191.5M517.9 184.7L514.4 191.5L511.2 184.6M554.0 171.4L553.9 191.5M557.3 184.7L553.9 191.5L550.6 184.6M593.1 171.6L593.4 191.4M596.6 184.6L593.4 191.4L590.0 184.6M632.2 172.1L632.9 190.9M635.8 184.3L632.9 190.9L629.5 184.6M671.2 172.7L672.5 190.3M675.0 184.1L672.5 190.3L669.1 184.5M710.3 172.7L712.0 190.3M714.4 184.0L712.0 190.3L708.5 184.6M749.3 172.1L751.6 190.9M753.9 184.1L751.6 190.9L747.7 184.8M788.5 172.1L791.0 190.8M793.3 184.0L791.0 190.8L787.0 184.9M827.7 172.1L830.4 190.8M832.6 184.0L830.4 190.8L826.4 184.9M867.0 172.1L869.7 190.8M871.9 184.0L869.7 190.8L865.7 184.9M906.3 172.1L909.0 190.8M911.2 184.0L909.0 190.8L905.0 184.9M103.6 191.2L100.4 211.0M104.8 204.8L100.4 211.0L98.2 203.7M142.7 191.1L139.9 211.1M144.2 204.7L139.9 211.1L137.5 203.8M181.8 191.5L179.4 210.7M183.4 204.5L179.4 210.7L177.0 203.8M220.9 191.7L218.9 210.5M222.7 204.4L218.9 210.5L216.5 203.7M260.0 192.0L258.4 210.2M262.0 204.3L258.4 210.2L255.9 203.7M299.2 192.3L297.8 209.9M301.2 204.1L297.8 209.9L295.3 203.7M338.4 192.3L337.2 209.9M340.5 204.1L337.2 209.9L334.7 203.7M377.7 191.9L376.5 210.3M380.0 204.2L376.5 210.3L373.9 203.8M416.9 191.7L415.9 210.5M419.4 204.3L415.9 210.5L413.1 203.9M456.1 191.5L455.3 210.7M458.8 204.3L455.3 210.7L452.4 204.0M495.3 191.0L494.7 211.2M498.3 204.4L494.7 211.2L491.6 204.2M534.4 191.0L534.2 211.2M537.6 204.3L534.2 211.2L530.9 204.2M573.6 191.0L573.6 211.2M576.9 204.3L573.6 211.2L570.2 204.3M612.6 191.6L613.2 210.6M616.1 204.0L613.2 210.6L609.8 204.2M651.6 192.1L652.8 210.1M655.4 203.8L652.8 210.1L649.4 204.1M690.6 192.3L692.4 209.9M694.7 203.6L692.4 209.9L688.8 204.2M729.7 192.1L731.9 210.1M734.2 203.6L731.9 210.1L728.1 204.3M768.8 191.7L771.4 210.5M773.6 203.6L771.4 210.5L767.4 204.5M807.9 191.8L810.9 210.4M813.0 203.6L810.9 210.4L806.8 204.6M847.2 191.8L850.2 210.4M852.3 203.6L850.2 210.4L846.1 204.6M886.5 191.5L889.5 210.7M891.7 203.6L889.5 210.7L885.3 204.6M925.8 191.8L928.8 210.4M930.9 203.6L928.8 210.4L924.7 204.6M123.1 211.1L120.2 230.4M124.4 224.3L120.2 230.4L118.0 223.3M162.2 211.4L159.7 230.1M163.7 224.1L159.7 230.1L157.4 223.3M201.4 211.3L199.1 230.1M203.0 224.1L199.1 230.1L196.8 223.3M240.5 211.6L238.6 229.8M242.3 223.9L238.6 229.8L236.2 223.3M279.6 211.9L278.1 229.5M281.5 223.8L278.1 229.5L275.7 223.3M318.8 211.9L317.5 229.5M320.9 223.7L317.5 229.5L315.0 223.3M358.0 211.9L356.9 229.5M360.2 223.7L356.9 229.5L354.3 223.3M397.3 211.4L396.2 230.0M399.7 223.8L396.2 230.0L393.5 223.5M436.5 211.3L435.6 230.2M439.1 223.8L435.6 230.2L432.8 223.6M475.6 210.9L475.1 230.5M478.5 223.9L475.1 230.5L472.0 223.7M514.8 210.7L514.5 230.8M518.0 224.0L514.5 230.8L511.2 223.9M554.0 210.7L553.9 230.8M557.3 223.9L553.9 230.8L550.6 223.9M593.1 210.8L593.4 230.6M596.6 223.8L593.4 230.6L590.0 223.9M632.0 211.3L633.1 230.1M635.8 223.5L633.1 230.1L629.6 223.9M671.0 211.9L672.7 229.5M675.0 223.2L672.7 229.5L669.2 223.8M710.1 211.9L712.2 229.5M714.4 223.1L712.2 229.5L708.6 223.9M749.2 211.6L751.7 229.8M753.9 223.2L751.7 229.8L747.8 224.0M788.2 211.4L791.3 230.1M793.3 223.2L791.3 230.1L787.1 224.2M827.5 211.4L830.6 230.0M832.6 223.2L830.6 230.0L826.4 224.2M866.8 211.3L869.9 230.2M872.0 223.2L869.9 230.2L865.7 224.2M906.1 211.2L909.2 230.3M911.3 223.2L909.2 230.3L905.0 224.3M103.6 230.7L100.4 250.0M104.7 243.9L100.4 250.0L98.3 242.9M142.7 231.0L139.9 249.7M144.0 243.8L139.9 249.7L137.7 242.8M181.8 231.0L179.4 249.7M183.3 243.7L179.4 249.7L177.1 242.9M220.9 231.2L218.9 249.4M222.6 243.6L218.9 249.4L216.5 242.9M260.0 231.5L258.4 249.1M261.9 243.4L258.4 249.1L256.0 242.8M299.2 231.5L297.8 249.2M301.2 243.4L297.8 249.2L295.3 242.9M338.4 231.7L337.2 249.0M340.5 243.3L337.2 249.0L334.7 242.9M377.6 231.5L376.6 249.2M379.9 243.3L376.6 249.2L374.0 243.0M416.8 231.1L416.0 249.5M419.3 243.4L416.0 249.5L413.2 243.1M456.0 230.9L455.4 249.8M458.8 243.4L455.4 249.8L452.5 243.2M495.2 230.3L494.8 250.4M498.3 243.6L494.8 250.4L491.6 243.5M534.3 230.3L534.3 250.4M537.6 243.5L534.3 250.4L530.9 243.5M573.5 230.3L573.7 250.4M577.0 243.5L573.7 250.4L570.3 243.6M612.5 230.9L613.3 249.8M616.2 243.2L613.3 249.8L609.9 243.5M651.5 231.4L652.9 249.3M655.4 242.9L652.9 249.3L649.5 243.4M690.4 231.6L692.6 249.1M694.8 242.8L692.6 249.1L688.9 243.5M729.5 231.6L732.1 249.1M734.1 242.7L732.1 249.1L728.3 243.5M768.6 231.0L771.6 249.7M773.7 242.8L771.6 249.7L767.5 243.8M807.8 231.0L811.0 249.7M813.0 242.8L811.0 249.7L806.8 243.8M847.1 231.0L850.3 249.7M852.3 242.8L850.3 249.7L846.1 243.8M886.3 230.4L889.7 250.3M891.9 242.9L889.7 250.3L885.2 244.1M925.6 230.7L929.0 250.0M931.1 242.8L929.0 250.0L924.6 244.0M123.2 250.6L120.1 269.3M124.3 263.4L120.1 269.3L118.1 262.4M162.3 250.9L159.6 269.0M163.6 263.3L159.6 269.0L157.5 262.4M201.4 251.2L199.1 268.7M202.8 263.1L199.1 268.7L197.0 262.4M240.5 251.2L238.6 268.8M242.2 263.1L238.6 268.8L236.3 262.4M279.6 251.4L278.1 268.5M281.5 262.9L278.1 268.5L275.7 262.4M318.8 251.7L317.5 268.2M320.7 262.8L317.5 268.2L315.2 262.3M358.0 251.7L356.9 268.2M360.0 262.7L356.9 268.2L354.5 262.4M397.2 251.5L396.3 268.4M399.4 262.8L396.3 268.4L393.8 262.5M436.4 251.1L435.7 268.8M438.9 262.9L435.7 268.8L433.0 262.7M475.5 250.3L475.2 269.6M478.5 263.1L475.2 269.6L472.1 263.0M514.7 249.8L514.6 270.1M518.0 263.2L514.6 270.1L511.2 263.2M553.8 249.9L554.1 270.0M557.3 263.1L554.1 270.0L550.6 263.2M592.9 249.9L593.6 270.0M596.7 263.0L593.6 270.0L590.0 263.3M631.8 250.5L633.3 269.4M635.9 262.7L633.3 269.4L629.6 263.2M670.9 251.2L672.8 268.7M675.1 262.4L672.8 268.7L669.2 263.1M709.9 251.2L712.4 268.7M714.5 262.3L712.4 268.7L708.6 263.2M749.0 250.9L751.9 269.0M753.9 262.3L751.9 269.0L747.9 263.3M788.1 250.5L791.4 269.4M793.4 262.4L791.4 269.4L787.1 263.5M827.3 250.5L830.8 269.4M832.7 262.4L830.8 269.4L826.5 263.5M866.7 250.7L870.0 269.3M872.0 262.3L870.0 269.3L865.8 263.5M905.8 250.1L909.5 269.9M911.5 262.5L909.5 269.9L904.9 263.7M103.6 270.3L100.4 288.9M104.6 283.1L100.4 288.9L98.4 282.0M142.7 270.7L139.9 288.4M143.8 282.8L139.9 288.4L137.9 281.9M181.9 270.2L179.3 288.9M183.3 283.0L179.3 288.9L177.1 282.1M221.0 270.6L218.8 288.5M222.5 282.8L218.8 288.5L216.6 282.1M260.1 270.8L258.3 288.4M261.8 282.7L258.3 288.4L256.0 282.1M299.2 271.4L297.8 287.8M301.0 282.4L297.8 287.8L295.5 281.9M338.4 271.4L337.2 287.8M340.4 282.4L337.2 287.8L334.9 282.0M377.5 271.4L376.7 287.8M379.7 282.3L376.7 287.8L374.2 282.0M416.7 270.9L416.1 288.3M419.2 282.5L416.1 288.3L413.4 282.2M455.9 270.0L455.5 289.2M458.8 282.7L455.5 289.2L452.4 282.5M495.1 269.0L494.9 290.2M498.5 283.0L494.9 290.2L491.4 282.9M534.2 268.9L534.4 290.3M537.9 282.9L534.4 290.3L530.8 283.0M573.3 269.5L573.9 289.6M577.0 282.7L573.9 289.6L570.3 282.9M612.3 269.8L613.5 289.3M616.3 282.5L613.5 289.3L609.9 282.9M651.3 270.6L653.1 288.6M655.5 282.1L653.1 288.6L649.5 282.7M690.2 270.8L692.8 288.3M694.8 281.9L692.8 288.3L689.0 282.8M729.4 270.9L732.2 288.3M734.2 281.9L732.2 288.3L728.3 282.8M768.4 270.1L771.8 289.1M773.8 282.0L771.8 289.1L767.5 283.2M807.5 269.7L811.3 289.5M813.3 282.1L811.3 289.5L806.7 283.3M846.9 270.1L850.5 289.0M852.4 282.0L850.5 289.0L846.1 283.2M886.1 269.7L889.9 289.5M891.9 282.1L889.9 289.5L885.3 283.3M925.4 269.7L929.2 289.5M931.2 282.1L929.2 289.5L924.6 283.3M123.2 289.6L120.1 308.8M124.4 302.7L120.1 308.8L118.0 301.7M162.3 289.6L159.6 308.8M163.7 302.7L159.6 308.8L157.3 301.8M201.4 289.8L199.1 308.6M203.0 302.6L199.1 308.6L196.7 301.8M240.6 290.0L238.5 308.4M242.3 302.4L238.5 308.4L236.2 301.8M279.7 290.4L278.0 308.0M281.5 302.3L278.0 308.0L275.7 301.7M318.8 290.8L317.5 307.6M320.7 302.1L317.5 307.6L315.1 301.6M358.0 291.0L356.9 307.4M360.0 302.0L356.9 307.4L354.6 301.6M397.1 291.0L396.4 307.4M399.4 301.9L396.4 307.4L393.9 301.7M436.3 289.6L435.8 308.8M439.2 302.3L435.8 308.8L432.8 302.2M475.5 287.9L475.2 310.5M479.1 302.8L475.2 310.5L471.5 302.8M514.6 287.9L514.7 310.5M518.4 302.8L514.7 310.5L510.9 302.8M553.7 288.5L554.2 309.9M557.6 302.5L554.2 309.9L550.5 302.7M592.8 289.1L593.7 309.3M596.8 302.2L593.7 309.3L590.1 302.5M631.7 289.8L633.4 308.6M636.0 301.9L633.4 308.6L629.7 302.5M670.7 290.4L673.0 308.0M675.1 301.6L673.0 308.0L669.3 302.4M709.7 290.5L712.6 307.9M714.5 301.5L712.6 307.9L708.7 302.4M748.8 289.6L752.1 308.8M754.2 301.7L752.1 308.8L747.8 302.8M787.9 289.2L791.6 309.2M793.7 301.8L791.6 309.2L787.0 303.0M827.2 289.2L830.9 309.2M832.9 301.7L830.9 309.2L826.3 303.0M866.6 289.4L870.1 309.0M872.2 301.7L870.1 309.0L865.6 302.9M905.9 289.3L909.4 309.1M911.5 301.8L909.4 309.1L904.9 302.9M103.6 308.5L100.4 329.1M104.9 322.6L100.4 329.1L98.1 321.6M142.7 308.5L139.9 329.1M144.3 322.5L139.9 329.1L137.4 321.6M181.9 308.2L179.3 329.4M183.7 322.6L179.3 329.4L176.7 321.7M221.0 309.2L218.8 328.5M222.8 322.2L218.8 328.5L216.4 321.5M260.1 309.3L258.3 328.3M262.1 322.1L258.3 328.3L255.8 321.5M299.2 309.7L297.8 327.9M301.3 321.9L297.8 327.9L295.2 321.5M338.4 310.0L337.2 327.6M340.6 321.8L337.2 327.6L334.7 321.4M377.5 310.6L376.7 327.0M379.7 321.6L376.7 327.0L374.2 321.3M416.7 309.2L416.1 328.4M419.5 322.0L416.1 328.4L413.1 321.7M455.9 306.9L455.5 330.7M459.6 322.7L455.5 330.7L451.7 322.5M495.0 307.0L495.0 330.6M498.9 322.6L495.0 330.6L491.1 322.5M534.1 307.9L534.5 329.7M538.0 322.2L534.5 329.7L530.7 322.3M573.3 308.5L573.9 329.1M577.1 322.0L573.9 329.1L570.3 322.2M612.2 309.1L613.6 328.6M616.4 321.7L613.6 328.6L609.9 322.1M651.2 309.2L653.2 328.4M655.7 321.5L653.2 328.4L649.3 322.2M690.2 310.1L692.8 327.6M694.8 321.2L692.8 327.6L689.0 322.0M729.3 309.2L732.3 328.4M734.5 321.3L732.3 328.4L728.1 322.4M768.4 308.4L771.8 329.2M774.1 321.5L771.8 329.2L767.2 322.7M807.7 308.5L811.1 329.1M813.4 321.5L811.1 329.1L806.5 322.6M847.1 308.7L850.3 328.9M852.6 321.5L850.3 328.9L845.8 322.6M886.6 308.7L889.4 328.9M891.8 321.5L889.4 328.9L885.1 322.5M926.0 308.6L928.6 329.0M931.1 321.6L928.6 329.0L924.3 322.5M123.0 327.8L120.3 349.1M124.8 342.3L120.3 349.1L117.7 341.4M162.3 327.3L159.6 349.6M164.2 342.4L159.6 349.6L156.8 341.5M201.4 327.9L199.1 349.0M203.4 342.2L199.1 349.0L196.4 341.4M240.5 328.5L238.6 348.4M242.6 341.9L238.6 348.4L235.9 341.3M279.7 328.5L278.0 348.3M281.9 341.9L278.0 348.3L275.3 341.3M318.8 328.7L317.5 348.1M321.2 341.7L317.5 348.1L314.7 341.3M358.0 329.0L356.9 347.9M360.4 341.6L356.9 347.9L354.1 341.3M397.2 328.9L396.3 348.0M399.8 341.6L396.3 348.0L393.4 341.3M436.4 326.5L435.7 350.3M439.9 342.3L435.7 350.3L432.0 342.1M475.5 326.5L475.2 350.3M479.3 342.3L475.2 350.3L471.3 342.2M514.6 327.0L514.7 349.9M518.5 342.0L514.7 349.9L510.9 342.1M553.7 327.8L554.2 349.1M557.6 341.7L554.2 349.1L550.5 341.9M592.8 328.4L593.7 348.5M596.8 341.5L593.7 348.5L590.1 341.8M631.7 328.4L633.4 348.5M636.2 341.3L633.4 348.5L629.5 341.9M670.6 328.5L673.1 348.4M675.6 341.2L673.1 348.4L668.9 342.0M709.6 328.5L712.7 348.4M715.0 341.1L712.7 348.4L708.3 342.1M748.7 327.2L752.2 349.7M754.8 341.4L752.2 349.7L747.2 342.6M788.1 327.6L791.4 349.3M793.9 341.3L791.4 349.3L786.6 342.4M827.6 327.7L830.5 349.2M833.1 341.4L830.5 349.2L825.9 342.3M867.1 328.0L869.6 348.9M872.2 341.3L869.6 348.9L865.3 342.2M906.6 327.9L908.7 348.9M911.5 341.4L908.7 348.9L904.5 342.1M103.5 346.1L100.5 370.1M105.5 362.3L100.5 370.1L97.5 361.4M142.7 346.0L139.9 370.1M144.9 362.3L139.9 370.1L136.9 361.4M181.8 346.5L179.4 369.6M184.1 362.1L179.4 369.6L176.4 361.3M220.9 347.4L218.9 368.7M223.1 361.8L218.9 368.7L216.0 361.1M260.1 347.5L258.3 368.6M262.4 361.7L258.3 368.6L255.4 361.1M299.3 347.4L297.7 368.7M301.8 361.7L297.7 368.7L294.7 361.2M338.5 347.6L337.1 368.5M341.1 361.6L337.1 368.5L334.1 361.2M377.6 347.6L376.6 368.5M380.4 361.5L376.6 368.5L373.5 361.2M416.8 346.2L416.0 369.9M420.2 362.0L416.0 369.9L412.3 361.7M455.9 346.2L455.5 370.0M459.6 361.9L455.5 370.0L451.7 361.7M495.0 346.6L495.0 369.5M498.8 361.7L495.0 369.5L491.2 361.7M534.1 347.1L534.5 369.0M538.0 361.5L534.5 369.0L530.7 361.6M573.3 347.8L573.9 368.4M577.1 361.2L573.9 368.4L570.3 361.4M612.1 346.9L613.7 369.3M616.9 361.4L613.7 369.3L609.4 361.9M650.9 346.2L653.5 369.9M656.5 361.4L653.5 369.9L648.7 362.2M689.9 347.3L693.1 368.9M695.6 361.0L693.1 368.9L688.4 362.0M729.1 346.3L732.5 369.8M735.3 361.2L732.5 369.8L727.4 362.4M768.5 346.4L771.7 369.7M774.5 361.2L771.7 369.7L766.7 362.3M808.0 346.9L810.8 369.3M813.6 361.1L810.8 369.3L806.1 362.1M847.5 347.1L849.9 369.0M852.7 361.2L849.9 369.0L845.4 361.9M887.1 347.3L888.9 368.8M891.9 361.2L888.9 368.8L884.7 361.8M926.6 347.4L928.0 368.7M931.1 361.2L928.0 368.7L924.0 361.7M123.2 364.0L120.1 391.3M125.2 383.3L120.1 391.3L116.9 382.4M162.4 364.0L159.5 391.4M164.5 383.3L159.5 391.4L156.3 382.4M201.4 365.7L199.1 389.6M203.9 381.9L199.1 389.6L195.9 381.1M240.6 366.6L238.5 388.7M242.9 381.5L238.5 388.7L235.5 380.8M279.7 366.7L278.0 388.7M282.2 381.5L278.0 388.7L274.9 380.9M318.9 366.4L317.4 388.9M321.6 381.5L317.4 388.9L314.1 381.0M358.1 366.4L356.8 388.9M361.0 381.5L356.8 388.9L353.5 381.0M397.4 363.9L396.1 391.4M400.7 383.1L396.1 391.4L392.3 382.7M436.5 363.9L435.6 391.4M440.0 383.0L435.6 391.4L431.7 382.8M475.5 365.7L475.2 389.7M479.3 381.5L475.2 389.7L471.3 381.4M514.6 366.3L514.7 389.1M518.5 381.3L514.7 389.1L510.9 381.3M553.7 366.8L554.2 388.5M557.6 381.0L554.2 388.5L550.4 381.2M592.7 365.7L593.8 389.6M597.4 381.3L593.8 389.6L589.4 381.7M631.4 364.0L633.7 391.4M637.1 382.5L633.7 391.4L628.8 383.2M670.4 365.7L673.3 389.6M676.3 381.0L673.3 389.6L668.3 381.9M709.4 365.8L712.9 389.6M715.7 380.9L712.9 389.6L707.7 382.0M748.9 365.7L752.0 389.7M754.9 380.9L752.0 389.7L747.0 382.0M788.3 365.9L791.2 389.5M794.1 380.9L791.2 389.5L786.3 381.9M827.9 366.3L830.2 389.1M833.2 380.9L830.2 389.1L825.6 381.7M867.4 366.5L869.3 388.9M872.4 380.9L869.3 388.9L864.9 381.5M906.9 366.7L908.4 388.7M911.6 380.9L908.4 388.7L904.2 381.4M103.6 383.6L100.4 411.0M105.6 402.9L100.4 411.0L97.3 402.0M142.8 383.6L139.8 411.0M144.9 402.9L139.8 411.0L136.6 402.0M182.0 383.6L179.2 411.0M184.2 402.9L179.2 411.0L175.9 402.1M221.0 385.3L218.8 409.3M223.5 401.5L218.8 409.3L215.6 400.7M260.2 385.5L258.2 409.1M262.8 401.4L258.2 409.1L254.9 400.7M299.4 385.1L297.6 409.5M302.3 401.5L297.6 409.5L294.2 400.8M338.6 385.4L337.0 409.2M341.5 401.3L337.0 409.2L333.6 400.8M377.9 383.6L376.3 411.0M381.0 402.7L376.3 411.0L372.7 402.3M417.0 383.6L415.8 411.0M420.3 402.7L415.8 411.0L412.0 402.3M456.1 383.6L455.3 411.0M459.7 402.6L455.3 411.0L451.4 402.4M495.1 385.0L494.9 409.6M499.1 401.2L494.9 409.6L490.9 401.2M534.2 385.6L534.4 409.0M538.2 401.0L534.4 409.0L530.4 401.1M573.2 383.6L574.0 411.0M577.9 402.4L574.0 411.0L569.6 402.6M612.0 383.6L613.8 411.0M617.4 402.2L613.8 411.0L609.1 402.8M650.9 383.6L653.5 411.0M656.9 402.1L653.5 411.0L648.6 402.9M690.1 386.5L692.9 408.1M695.5 400.2L692.9 408.1L688.4 401.2M729.4 386.6L732.2 408.0M734.8 400.2L732.2 408.0L727.7 401.2M768.7 385.1L771.5 409.5M774.6 400.7L771.5 409.5L766.5 401.6M808.2 385.4L810.6 409.2M813.7 400.7L810.6 409.2L805.8 401.5M847.8 385.9L849.6 408.7M852.8 400.6L849.6 408.7L845.2 401.2M887.2 386.1L888.8 408.5M892.0 400.6L888.8 408.5L884.5 401.1M926.7 386.5L927.9 408.1M931.1 400.5L927.9 408.1L923.9 400.9M123.1 403.2L120.2 430.6M125.2 422.5L120.2 430.6L117.0 421.7M162.3 403.2L159.6 430.6M164.6 422.5L159.6 430.6L156.3 421.7M201.6 403.2L198.9 430.6M203.9 422.5L198.9 430.6L195.6 421.7M240.8 403.2L238.3 430.6M243.2 422.5L238.3 430.6L234.9 421.7M280.0 403.2L277.7 430.6M282.6 422.5L277.7 430.6L274.3 421.8M319.2 403.2L317.1 430.6M321.9 422.4L317.1 430.6L313.6 421.8M358.3 403.2L356.6 430.6M361.3 422.4L356.6 430.6L353.0 421.9M397.4 405.3L396.1 428.5M400.4 420.8L396.1 428.5L392.7 420.4M436.5 405.5L435.6 428.4M439.7 420.7L435.6 428.4L432.1 420.4M475.6 403.2L475.1 430.7M479.4 422.2L475.1 430.7L471.1 422.1M514.6 403.2L514.7 430.7M518.8 422.1L514.7 430.7L510.5 422.1M553.7 403.2L554.2 430.7M558.2 422.0L554.2 430.7L549.9 422.2M592.8 406.1L593.7 427.7M597.0 420.2L593.7 427.7L589.8 420.5M631.6 405.1L633.5 428.8M636.8 420.4L633.5 428.8L628.9 421.0M670.7 405.9L673.0 427.9M675.9 420.0L673.0 427.9L668.6 420.8M710.2 409.7L712.1 424.1M713.8 418.9L712.1 424.1L709.0 419.5M749.3 406.0L751.6 427.8M754.5 420.0L751.6 427.8L747.2 420.8M788.6 405.0L790.9 428.9M794.1 420.3L790.9 428.9L786.1 421.1M828.1 405.2L830.0 428.6M833.2 420.3L830.0 428.6L825.4 420.9M867.6 405.8L869.1 428.1M872.3 420.2L869.1 428.1L864.9 420.7M907.1 406.1L908.2 427.7M911.4 420.1L908.2 427.7L904.2 420.5M102.8 428.7L101.2 444.4M104.4 439.3L101.2 444.4L99.1 438.8M142.3 426.2L140.3 446.9M144.4 440.2L140.3 446.9L137.5 439.5M181.9 422.9L179.3 450.2M184.2 442.1L179.3 450.2L176.0 441.3M221.2 422.8L218.6 450.2M223.6 442.1L218.6 450.2L215.3 441.3M260.4 422.8L258.0 450.2M262.9 442.1L258.0 450.2L254.6 441.4M299.6 422.8L297.4 450.2M302.2 442.1L297.4 450.2L293.9 441.4M338.8 422.8L336.8 450.3M341.6 442.0L336.8 450.3L333.3 441.4M377.8 424.5L376.4 448.6M380.9 440.6L376.4 448.6L372.8 440.1M416.7 430.3L416.1 442.8M418.4 438.6L416.1 442.8L414.2 438.4M456.1 425.4L455.3 447.6M459.3 440.2L455.3 447.6L451.9 439.9M495.2 422.8L494.8 450.3M499.1 441.8L494.8 450.3L490.8 441.7M534.2 422.8L534.4 450.3M538.5 441.7L534.4 450.3L530.2 441.8M573.3 427.1L573.9 446.0M576.8 439.4L573.9 446.0L570.5 439.6M612.4 427.7L613.4 445.4M616.0 439.2L613.4 445.4L610.1 439.5M651.2 425.3L653.2 447.8M656.3 439.8L653.2 447.8L648.8 440.4M691.0 432.0L692.0 441.1M693.2 437.8L692.0 441.1L690.2 438.2M730.1 430.3L731.5 442.8M733.1 438.3L731.5 442.8L728.9 438.7M769.1 425.5L771.1 447.6M774.1 439.7L771.1 447.6L766.7 440.4M808.6 425.2L810.2 447.9M813.4 439.9L810.2 447.9L805.9 440.4M848.0 425.3L849.4 447.8M852.7 439.9L849.4 447.8L845.2 440.3M887.5 425.9L888.5 447.2M891.7 439.7L888.5 447.2L884.6 440.1M926.9 425.9L927.7 447.2M931.0 439.8L927.7 447.2L923.9 440.1M121.7 460.7L121.7 451.7M120.2 454.7L121.7 451.7L123.1 454.7M161.9 446.3L160.0 466.1M163.9 459.6L160.0 466.1L157.4 459.0M201.4 443.9L199.1 468.4M204.0 460.4L199.1 468.4L195.8 459.7M240.7 442.5L238.4 469.9M243.2 461.7L238.4 469.9L234.9 461.0M280.0 442.5L277.7 469.9M282.6 461.7L277.7 469.9L274.3 461.0M319.1 442.4L317.2 469.9M321.9 461.7L317.2 469.9L313.6 461.1M358.2 444.2L356.7 468.2M361.2 460.2L356.7 468.2L353.2 459.7M397.0 451.0L396.5 461.3M398.4 457.9L396.5 461.3L394.9 457.7M436.2 452.2L435.9 460.2M437.3 457.5L435.9 460.2L434.7 457.4M475.6 444.0L475.1 468.3M479.3 460.1L475.1 468.3L471.2 459.9M514.6 444.1L514.7 468.2M518.7 460.0L514.7 468.2L510.7 460.0M553.7 447.3L554.2 465.0M557.0 458.9L554.2 465.0L551.1 459.0M593.1 452.2L593.4 460.2M594.6 457.4L593.4 460.2L592.0 457.5M631.8 446.1L633.3 466.2M636.1 459.1L633.3 466.2L629.4 459.6M671.3 450.5L672.4 461.8M673.9 457.8L672.4 461.8L670.1 458.1M710.7 452.2L711.6 460.1M712.6 457.3L711.6 460.1L710.0 457.6M749.5 445.9L751.4 466.4M754.2 459.1L751.4 466.4L747.3 459.7M789.0 445.1L790.5 467.2M793.7 459.4L790.5 467.2L786.3 459.9M828.4 444.8L829.7 467.5M833.0 459.6L829.7 467.5L825.5 460.0M867.8 445.3L868.9 467.1M872.1 459.4L868.9 467.1L864.9 459.8M907.2 445.5L908.1 466.8M911.3 459.4L908.1 466.8L904.2 459.7M102.5 471.0L101.5 480.6M103.4 477.5L101.5 480.6L100.3 477.1M141.9 469.1L140.7 482.5M143.3 478.1L140.7 482.5L138.9 477.7M181.5 465.8L179.7 485.7M183.6 479.2L179.7 485.7L177.0 478.6M220.9 464.4L218.9 487.2M223.4 479.7L218.9 487.2L215.8 479.1M260.2 463.9L258.2 487.6M262.8 479.9L258.2 487.6L254.9 479.2M299.3 464.2L297.7 487.3M302.1 479.7L297.7 487.3L294.4 479.2M338.5 464.9L337.1 486.6M341.2 479.4L337.1 486.6L334.0 479.0M377.5 468.3L376.7 483.3M379.5 478.3L376.7 483.3L374.5 478.0M418.4 479.2L414.4 472.3M414.6 475.3L414.4 472.3L416.9 474.0M455.9 469.4L455.5 482.2M457.8 477.9L455.5 482.2L453.5 477.8M495.1 464.7L494.9 486.8M498.7 479.3L494.9 486.8L491.3 479.3M534.1 465.8L534.5 485.8M537.7 478.9L534.5 485.8L531.0 479.0M576.7 473.2L570.5 478.4M573.5 477.6L570.5 478.4L571.8 475.6M612.4 467.9L613.4 483.7M615.7 478.1L613.4 483.7L610.4 478.4M651.5 467.6L652.9 484.0M655.1 478.2L652.9 484.0L649.7 478.6M695.1 474.1L687.9 477.5M690.9 477.5L687.9 477.5L689.8 475.1M730.1 467.9L731.5 483.7M733.7 478.0L731.5 483.7L728.4 478.5M769.4 466.0L770.8 485.6M773.6 478.7L770.8 485.6L767.0 479.1M808.9 465.0L809.9 486.6M813.2 479.0L809.9 486.6L806.0 479.4M848.2 464.9L849.2 486.6M852.5 479.1L849.2 486.6L845.2 479.4M887.6 465.1L888.4 486.4M891.7 479.0L888.4 486.4L884.6 479.3M927.0 465.6L927.6 486.0M930.8 478.9L927.6 486.0L924.0 479.1M122.3 488.8L121.0 502.0M123.6 497.7L121.0 502.0L119.3 497.3M161.8 486.0L160.1 504.8M163.8 498.7L160.1 504.8L157.5 498.1M201.0 486.6L199.5 504.2M203.0 498.4L199.5 504.2L197.1 497.9M240.3 486.0L238.8 504.8M242.4 498.6L238.8 504.8L236.2 498.1M279.6 485.7L278.1 505.1M281.8 498.7L278.1 505.1L275.4 498.2M318.7 486.9L317.6 503.9M320.8 498.3L317.6 503.9L315.2 497.9M357.9 488.2L357.0 502.6M359.7 497.8L357.0 502.6L354.9 497.5M399.6 492.6L393.9 498.2M396.8 497.2L393.9 498.2L394.9 495.4M436.0 499.4L436.0 491.4M434.7 494.1L436.0 491.4L437.4 494.1M475.5 485.2L475.2 505.6M478.7 498.7L475.2 505.6L471.9 498.6M514.6 485.4L514.7 505.4M518.0 498.5L514.7 505.4L511.3 498.6M556.8 492.6L551.1 498.2M554.0 497.2L551.1 498.2L552.1 495.4M593.0 491.4L593.5 499.4M594.6 496.6L593.5 499.4L592.0 496.7M631.9 486.8L633.2 504.0M635.6 497.9L633.2 504.0L629.9 498.3M671.5 491.4L672.2 499.4M673.3 496.5L672.2 499.4L670.6 496.8M712.2 491.5L710.1 499.3M712.1 497.0L710.1 499.3L709.5 496.3M749.7 485.6L751.2 505.2M753.9 498.3L751.2 505.2L747.4 498.7M789.3 485.8L790.2 505.0M793.1 498.3L790.2 505.0L786.7 498.6M828.7 485.0L829.4 505.8M832.6 498.6L829.4 505.8L825.7 498.8M868.0 485.0L868.7 505.8M871.9 498.6L868.7 505.8L865.0 498.8M907.4 485.2L907.9 505.6M911.1 498.5L907.9 505.6L904.4 498.7M102.9 505.6L101.1 524.4M104.9 518.3L101.1 524.4L98.6 517.7M142.3 504.1L140.3 526.0M144.6 518.8L140.3 526.0L137.4 518.2M181.4 505.5L179.8 524.5M183.5 518.3L179.8 524.5L177.2 517.8M220.5 506.8L219.3 523.2M222.4 517.8L219.3 523.2L217.0 517.4M259.8 507.1L258.6 522.9M261.6 517.7L258.6 522.9L256.4 517.3M299.0 508.1L298.0 522.0M300.7 517.4L298.0 522.0L296.0 517.1M338.2 508.5L337.4 521.5M339.9 517.2L337.4 521.5L335.5 517.0M379.8 510.3L374.4 519.8M377.8 517.4L374.4 519.8L374.6 515.6M416.4 519.0L416.4 511.0M415.1 513.8L416.4 511.0L417.7 513.8M454.7 509.3L456.7 520.7M457.9 516.5L456.7 520.7L454.1 517.2M495.0 505.7L495.0 524.3M498.1 518.0L495.0 524.3L491.9 518.0M534.1 508.3L534.5 521.7M536.6 517.1L534.5 521.7L532.1 517.2M577.1 513.0L570.1 517.0M573.2 516.8L570.1 517.0L571.8 514.5M612.4 507.1L613.4 522.9M615.7 517.4L613.4 522.9L610.4 517.7M651.7 508.3L652.7 521.7M654.6 517.0L652.7 521.7L650.1 517.3M694.3 512.2L688.7 517.8M691.5 516.9L688.7 517.8L689.7 515.0M730.0 505.0L731.6 525.1M734.4 517.9L731.6 525.1L727.7 518.5M769.6 505.6L770.6 524.5M773.4 517.9L770.6 524.5L767.1 518.2M809.1 505.4L809.7 524.7M812.7 518.0L809.7 524.7L806.3 518.2M848.4 505.0L849.0 525.1M852.1 518.1L849.0 525.1L845.4 518.3M887.7 505.0L888.3 525.1M891.4 518.1L888.3 525.1L884.7 518.3M927.1 505.0L927.5 525.1M930.7 518.1L927.5 525.1L924.0 518.3M122.5 525.0L120.8 544.3M124.6 538.0L120.8 544.3L118.2 537.4M161.8 524.0L160.1 545.3M164.2 538.3L160.1 545.3L157.1 537.7M201.0 525.2L199.5 544.1M203.2 537.9L199.5 544.1L196.9 537.4M240.2 526.2L238.9 543.0M242.2 537.5L238.9 543.0L236.6 537.1M279.3 527.6L278.4 541.6M281.0 537.0L278.4 541.6L276.4 536.7M318.5 529.3L317.8 540.0M319.8 536.4L317.8 540.0L316.3 536.2M360.6 528.0L354.3 541.3M358.7 537.8L354.3 541.3L354.2 535.7M398.1 538.4L395.4 530.9M395.1 533.9L395.4 530.9L397.6 533.0M439.8 533.3L432.3 536.0M435.3 536.3L432.3 536.0L434.4 533.8M473.1 526.2L477.6 543.1M478.9 536.6L477.6 543.1L473.3 538.1M514.5 526.5L514.8 542.8M517.4 537.2L514.8 542.8L512.0 537.3M556.5 531.6L551.4 537.7M554.2 536.5L551.4 537.7L552.1 534.8M594.4 527.9L592.1 541.4M595.1 537.2L592.1 541.4L590.6 536.4M631.6 529.4L633.5 539.9M634.6 536.0L633.5 539.9L631.1 536.6M673.8 531.2L669.8 538.1M672.4 536.4L669.8 538.1L670.1 535.1M712.7 528.9L709.6 540.4M712.6 537.0L709.6 540.4L708.8 535.9M749.9 524.2L751.0 545.1M754.1 537.8L751.0 545.1L747.1 538.2M789.5 525.2L790.0 544.1M793.0 537.5L790.0 544.1L786.7 537.7M828.9 525.1L829.2 544.2M832.3 537.6L829.2 544.2L825.9 537.7M868.2 524.6L868.5 544.7M871.8 537.8L868.5 544.7L865.1 537.9M907.5 524.6L907.8 544.7M911.1 537.8L907.8 544.7L904.4 537.9M102.8 544.6L101.2 563.9M105.0 557.6L101.2 563.9L98.5 557.0M142.3 542.2L140.3 566.3M145.0 558.4L140.3 566.3L137.0 557.8M181.4 543.6L179.8 565.0M183.9 557.9L179.8 565.0L176.8 557.4M220.6 544.3L219.2 564.2M223.0 557.6L219.2 564.2L216.4 557.2M259.9 544.8L258.5 563.8M262.2 557.5L258.5 563.8L255.8 557.0M298.9 547.4L298.1 561.1M300.7 556.6L298.1 561.1L296.1 556.3M340.2 547.7L335.4 560.9M339.2 557.1L335.4 560.9L334.8 555.5M379.9 551.4L374.3 557.1M377.1 556.1L374.3 557.1L375.3 554.2M418.4 557.7L414.4 550.8M414.6 553.8L414.4 550.8L416.9 552.5M455.2 548.2L456.2 560.3M457.9 556.0L456.2 560.3L453.9 556.3M492.3 546.9L497.7 561.7M498.3 555.7L497.7 561.7L493.4 557.5M534.1 548.5L534.5 560.1M536.3 556.0L534.5 560.1L532.4 556.1M575.4 549.4L571.8 559.1M574.7 556.4L571.8 559.1L571.4 555.2M612.5 547.6L613.3 560.9M615.2 556.2L613.3 560.9L610.8 556.5M651.8 548.5L652.6 560.0M654.3 556.0L652.6 560.0L650.4 556.2M694.1 551.2L688.9 557.3M691.7 556.1L688.9 557.3L689.7 554.4M730.1 543.5L731.5 565.0M734.6 557.4L731.5 565.0L727.4 557.9M769.7 544.4L770.5 564.1M773.5 557.2L770.5 564.1L766.9 557.5M809.2 544.8L809.6 563.7M812.6 557.2L809.6 563.7L806.3 557.3M848.5 544.7L848.9 563.8M851.9 557.2L848.9 563.8L845.6 557.3M887.8 544.3L888.2 564.3M891.4 557.4L888.2 564.3L884.7 557.5M927.1 544.6L927.5 564.0M930.6 557.3L927.5 564.0L924.1 557.4M122.5 563.7L120.8 584.1M124.8 577.4L120.8 584.1L118.0 576.8M161.8 562.9L160.1 584.8M164.3 577.6L160.1 584.8L157.0 577.1M201.1 562.9L199.4 584.8M203.6 577.6L199.4 584.8L196.3 577.1M240.3 563.3L238.8 584.5M242.8 577.5L238.8 584.5L235.8 577.0M279.5 564.6L278.2 583.2M281.8 577.0L278.2 583.2L275.6 576.6M319.5 566.4L316.8 581.4M320.2 576.7L316.8 581.4L315.2 575.8M360.0 568.5L354.9 579.3M358.5 576.4L354.9 579.3L354.8 574.8M394.8 577.3L398.8 570.4M396.2 572.1L398.8 570.4L398.5 573.4M438.6 570.8L433.5 576.9M436.3 575.7L433.5 576.9L434.2 574.0M472.4 567.6L478.3 580.2M478.4 574.9L478.3 580.2L474.2 576.9M512.3 567.4L517.0 580.4M517.6 575.1L517.0 580.4L513.2 576.7M555.3 568.9L552.6 578.9M555.2 575.9L552.6 578.9L551.9 575.0M592.9 567.2L593.6 580.6M595.6 575.9L593.6 580.6L591.1 576.1M631.5 570.0L633.6 577.7M634.2 574.8L633.6 577.7L631.6 575.4M673.2 568.9L670.5 578.9M673.1 575.9L670.5 578.9L669.8 575.0M711.7 567.1L710.6 580.6M713.2 576.2L710.6 580.6L708.7 575.8M749.9 563.6L751.0 584.2M754.0 577.0L751.0 584.2L747.2 577.3M789.5 564.3L790.0 583.5M793.0 576.8L790.0 583.5L786.6 577.0M828.9 564.4L829.2 583.3M832.3 576.8L829.2 583.3L826.0 576.9M868.2 564.4L868.5 583.3M871.6 576.8L868.5 583.3L865.3 576.9M907.5 564.4L907.8 583.3M910.9 576.8L907.8 583.3L904.6 576.9M102.8 583.5L101.2 603.5M105.1 596.9L101.2 603.5L98.4 596.4M142.2 581.5L140.4 605.5M145.0 597.6L140.4 605.5L137.0 597.0M181.4 582.2L179.8 604.8M184.1 597.4L179.8 604.8L176.6 596.8M220.7 582.2L219.1 604.8M223.4 597.3L219.1 604.8L215.9 596.8M260.0 582.7L258.4 604.3M262.6 597.2L258.4 604.3L255.4 596.7M299.3 584.0L297.7 603.0M301.4 596.8L297.7 603.0L295.1 596.2M339.8 586.0L335.8 601.0M339.7 596.5L335.8 601.0L334.7 595.2M373.6 595.5L380.6 591.5M377.5 591.7L380.6 591.5L378.9 594.0M416.4 599.5L416.4 587.5M414.4 591.6L416.4 587.5L418.4 591.6M455.7 587.4L455.7 599.6M457.7 595.4L455.7 599.6L453.7 595.4M491.7 587.8L498.3 599.2M497.9 594.2L498.3 599.2L494.1 596.4M533.8 587.7L534.8 599.3M536.4 595.2L534.8 599.3L532.5 595.5M574.7 587.4L572.5 599.6M575.3 595.8L572.5 599.6L571.2 595.1M612.6 588.0L613.2 599.0M614.9 595.1L613.2 599.0L611.2 595.4M651.8 587.2L652.6 599.8M654.4 595.4L652.6 599.8L650.2 595.6M694.1 588.0L688.9 599.0M692.5 596.1L688.9 599.0L688.8 594.4M730.2 583.4L731.4 603.6M734.4 596.5L731.4 603.6L727.6 596.9M769.7 583.4L770.5 603.6M773.6 596.6L770.5 603.6L766.9 596.8M809.2 584.0L809.6 603.0M812.6 596.4L809.6 603.0L806.3 596.6M848.5 584.0L848.9 603.0M851.9 596.4L848.9 603.0L845.6 596.6M887.8 584.0L888.2 603.0M891.2 596.4L888.2 603.0L884.9 596.6M927.1 584.0L927.5 603.0M930.5 596.4L927.5 603.0L924.2 596.6M122.4 602.7L120.9 623.5M124.9 616.7L120.9 623.5L117.9 616.2M161.8 601.7L160.1 624.5M164.5 617.0L160.1 624.5L156.9 616.5M201.1 601.7L199.4 624.6M203.8 617.0L199.4 624.6L196.2 616.5M240.3 601.8L238.8 624.4M243.1 617.0L238.8 624.4L235.5 616.4M279.5 602.6L278.2 623.7M282.1 616.7L278.2 623.7L275.1 616.2M319.4 603.9L316.9 622.4M320.8 616.5L316.9 622.4L314.7 615.6M358.9 609.1L356.0 617.1M358.3 614.9L356.0 617.1L355.7 613.9M396.8 617.1L396.8 609.1M395.4 611.9L396.8 609.1L398.1 611.9M438.0 609.7L434.0 616.6M436.6 614.9L434.0 616.6L434.3 613.6M472.4 606.8L478.3 619.4M478.4 614.1L478.3 619.4L474.2 616.1M511.9 607.2L517.4 619.0M517.5 614.1L517.4 619.0L513.6 615.9M553.7 607.2L554.2 619.0M556.0 614.9L554.2 619.0L552.1 615.1M592.9 607.6L593.6 618.6M595.2 614.8L593.6 618.6L591.5 615.0M632.3 609.1L632.8 617.1M634.0 614.3L632.8 617.1L631.3 614.5M671.4 606.4L672.3 619.8M674.2 615.1L672.3 619.8L669.8 615.4M712.5 605.5L709.8 620.7M713.3 616.0L709.8 620.7L708.2 615.1M750.0 603.1L750.9 623.2M753.9 616.2L750.9 623.2L747.2 616.5M789.5 603.3L790.0 622.9M793.1 616.2L790.0 622.9L786.6 616.3M828.9 603.7L829.2 622.6M832.3 616.1L829.2 622.6L826.0 616.2M868.2 603.7L868.5 622.6M871.6 616.1L868.5 622.6L865.3 616.2M907.5 603.7L907.8 622.6M910.9 616.1L907.8 622.6L904.6 616.2M102.7 622.6L101.3 642.9M105.2 636.2L101.3 642.9L98.4 635.7M142.1 621.5L140.5 644.0M144.8 636.6L140.5 644.0L137.3 636.0M181.4 621.3L179.8 644.2M184.2 636.6L179.8 644.2L176.5 636.1M220.7 621.4L219.1 644.1M223.4 636.6L219.1 644.1L215.9 636.1M260.0 621.5L258.4 644.0M262.7 636.6L258.4 644.0L255.2 636.0M299.1 622.6L297.9 642.8M301.7 636.2L297.9 642.8L294.9 635.7M338.2 624.9L337.4 640.5M340.3 635.3L337.4 640.5L335.1 635.1M377.3 628.7L376.9 636.7M378.4 634.1L376.9 636.7L375.7 633.9M416.5 628.7L416.3 636.7M417.7 634.1L416.3 636.7L415.0 634.0M455.8 625.7L455.6 639.8M458.0 635.0L455.6 639.8L453.3 634.9M491.8 625.8L498.2 639.7M498.3 633.9L498.2 639.7L493.7 636.0M533.2 626.7L535.4 638.8M536.7 634.3L535.4 638.8L532.6 635.0M573.3 627.2L573.9 638.3M575.5 634.4L573.9 638.3L571.8 634.6M612.6 627.6L613.2 637.9M614.7 634.3L613.2 637.9L611.3 634.5M651.8 626.0L652.6 639.4M654.6 634.7L652.6 639.4L650.1 635.0M691.0 625.4L692.0 640.1M694.1 634.9L692.0 640.1L689.2 635.2M730.3 622.7L731.3 642.8M734.3 635.7L731.3 642.8L727.6 636.1M769.8 623.0L770.4 642.4M773.4 635.7L770.4 642.4L767.0 635.9M809.2 623.3L809.6 642.2M812.6 635.7L809.6 642.2L806.3 635.8M848.5 623.3L848.9 642.2M851.9 635.7L848.9 642.2L845.6 635.8M887.8 623.3L888.2 642.2M891.2 635.7L888.2 642.2L884.9 635.8M927.1 623.3L927.5 642.2M930.5 635.7L927.5 642.2L924.2 635.8" fill="none" stroke="#000" stroke-width="1.1" stroke-linecap="butt" stroke-linejoin="miter"/>
</g>
<rect x="102" y="103" width="845" height="530" fill="none" stroke="#000" stroke-width="2"/>
<rect x="86" y="154.0" width="16" height="2" fill="#000"/><rect x="86" y="245.6" width="16" height="2" fill="#000"/><rect x="86" y="337.2" width="16" height="2" fill="#000"/><rect x="86" y="428.8" width="16" height="2" fill="#000"/><rect x="86" y="520.4" width="16" height="2" fill="#000"/><rect x="86" y="612.0" width="16" height="2" fill="#000"/><rect x="220.7" y="633" width="2" height="15.5" fill="#000"/><rect x="371.8" y="633" width="2" height="15.5" fill="#000"/><rect x="522.9" y="633" width="2" height="15.5" fill="#000"/><rect x="674.0" y="633" width="2" height="15.5" fill="#000"/><rect x="825.1" y="633" width="2" height="15.5" fill="#000"/>
<rect x="254.00" y="789.5" width="24.52" height="27.5" fill="#7820f0" stroke="#000" stroke-width="1"/><rect x="278.52" y="789.5" width="24.52" height="27.5" fill="#3010f8" stroke="#000" stroke-width="1"/><rect x="303.04" y="789.5" width="24.52" height="27.5" fill="#1020f0" stroke="#000" stroke-width="1"/><rect x="327.56" y="789.5" width="24.52" height="27.5" fill="#3858e0" stroke="#000" stroke-width="1"/><rect x="352.08" y="789.5" width="24.52" height="27.5" fill="#3070e8" stroke="#000" stroke-width="1"/><rect x="376.60" y="789.5" width="24.52" height="27.5" fill="#2090f8" stroke="#000" stroke-width="1"/><rect x="401.12" y="789.5" width="24.52" height="27.5" fill="#10a0f8" stroke="#000" stroke-width="1"/><rect x="425.64" y="789.5" width="24.52" height="27.5" fill="#10c0f8" stroke="#000" stroke-width="1"/><rect x="450.16" y="789.5" width="24.52" height="27.5" fill="#60c0f0" stroke="#000" stroke-width="1"/><rect x="474.68" y="789.5" width="24.52" height="27.5" fill="#a0d0f0" stroke="#000" stroke-width="1"/><rect x="499.20" y="789.5" width="24.52" height="27.5" fill="#c0e4f8" stroke="#000" stroke-width="1"/><rect x="523.72" y="789.5" width="24.52" height="27.5" fill="#fff8a0" stroke="#000" stroke-width="1"/><rect x="548.24" y="789.5" width="24.52" height="27.5" fill="#ffe848" stroke="#000" stroke-width="1"/><rect x="572.76" y="789.5" width="24.52" height="27.5" fill="#ffc820" stroke="#000" stroke-width="1"/><rect x="597.28" y="789.5" width="24.52" height="27.5" fill="#ffa800" stroke="#000" stroke-width="1"/><rect x="621.80" y="789.5" width="24.52" height="27.5" fill="#ff8800" stroke="#000" stroke-width="1"/><rect x="646.32" y="789.5" width="24.52" height="27.5" fill="#ff6000" stroke="#000" stroke-width="1"/><rect x="670.84" y="789.5" width="24.52" height="27.5" fill="#ff2000" stroke="#000" stroke-width="1"/><rect x="695.36" y="789.5" width="24.52" height="27.5" fill="#e80000" stroke="#000" stroke-width="1"/><rect x="719.88" y="789.5" width="24.52" height="27.5" fill="#d00000" stroke="#000" stroke-width="1"/><rect x="744.40" y="789.5" width="24.52" height="27.5" fill="#e04048" stroke="#000" stroke-width="1"/><rect x="768.92" y="789.5" width="24.52" height="27.5" fill="#ffb0b0" stroke="#000" stroke-width="1"/>
</svg>
<div id="valid">Valid: 2014-07-05_03:00:00</div>
<div class="t" style="top:43px">Wind Speed [m/s] and RH [&gt;80 %] at 1700 m height</div>
<div class="t" style="top:58.1px">Wind&nbsp;&nbsp; (m s-1)</div>
<div class="t" style="top:72.9px">Relative Humidity&nbsp;&nbsp; (%)</div>
<div id="cbt">Wind Speed [m/s] and RH [&gt;80 %] at 1700 m height</div>
<div class="lat" style="top:146.0px">35<span class="dg">°</span>40<span class="mn">'</span>N</div>
<div class="lat" style="top:237.6px">35<span class="dg">°</span>30<span class="mn">'</span>N</div>
<div class="lat" style="top:329.2px">35<span class="dg">°</span>20<span class="mn">'</span>N</div>
<div class="lat" style="top:420.8px">35<span class="dg">°</span>10<span class="mn">'</span>N</div>
<div class="lat" style="top:512.4px">35<span class="dg">°</span>N</div>
<div class="lat" style="top:604.0px">34<span class="dg">°</span>50<span class="mn">'</span>N</div>
<div class="lon" style="left:161.7px">25<span class="dg">°</span>E</div>
<div class="lon" style="left:312.8px">25<span class="dg">°</span>20<span class="mn">'</span>E</div>
<div class="lon" style="left:463.9px">25<span class="dg">°</span>40<span class="mn">'</span>E</div>
<div class="lon" style="left:615.0px">26<span class="dg">°</span>E</div>
<div class="lon" style="left:766.1px">26<span class="dg">°</span>20<span class="mn">'</span>E</div>
<div class="cbl" style="left:248.5px">0</div>
<div class="cbl" style="left:297.6px">2</div>
<div class="cbl" style="left:346.6px">4</div>
<div class="cbl" style="left:395.6px">6</div>
<div class="cbl" style="left:444.7px">8</div>
<div class="cbl" style="left:493.7px">10</div>
<div class="cbl" style="left:542.8px">12</div>
<div class="cbl" style="left:591.8px">14</div>
<div class="cbl" style="left:640.8px">16</div>
<div class="cbl" style="left:689.9px">18</div>
<div class="cbl" style="left:738.9px">20</div>
</main></body></html>
